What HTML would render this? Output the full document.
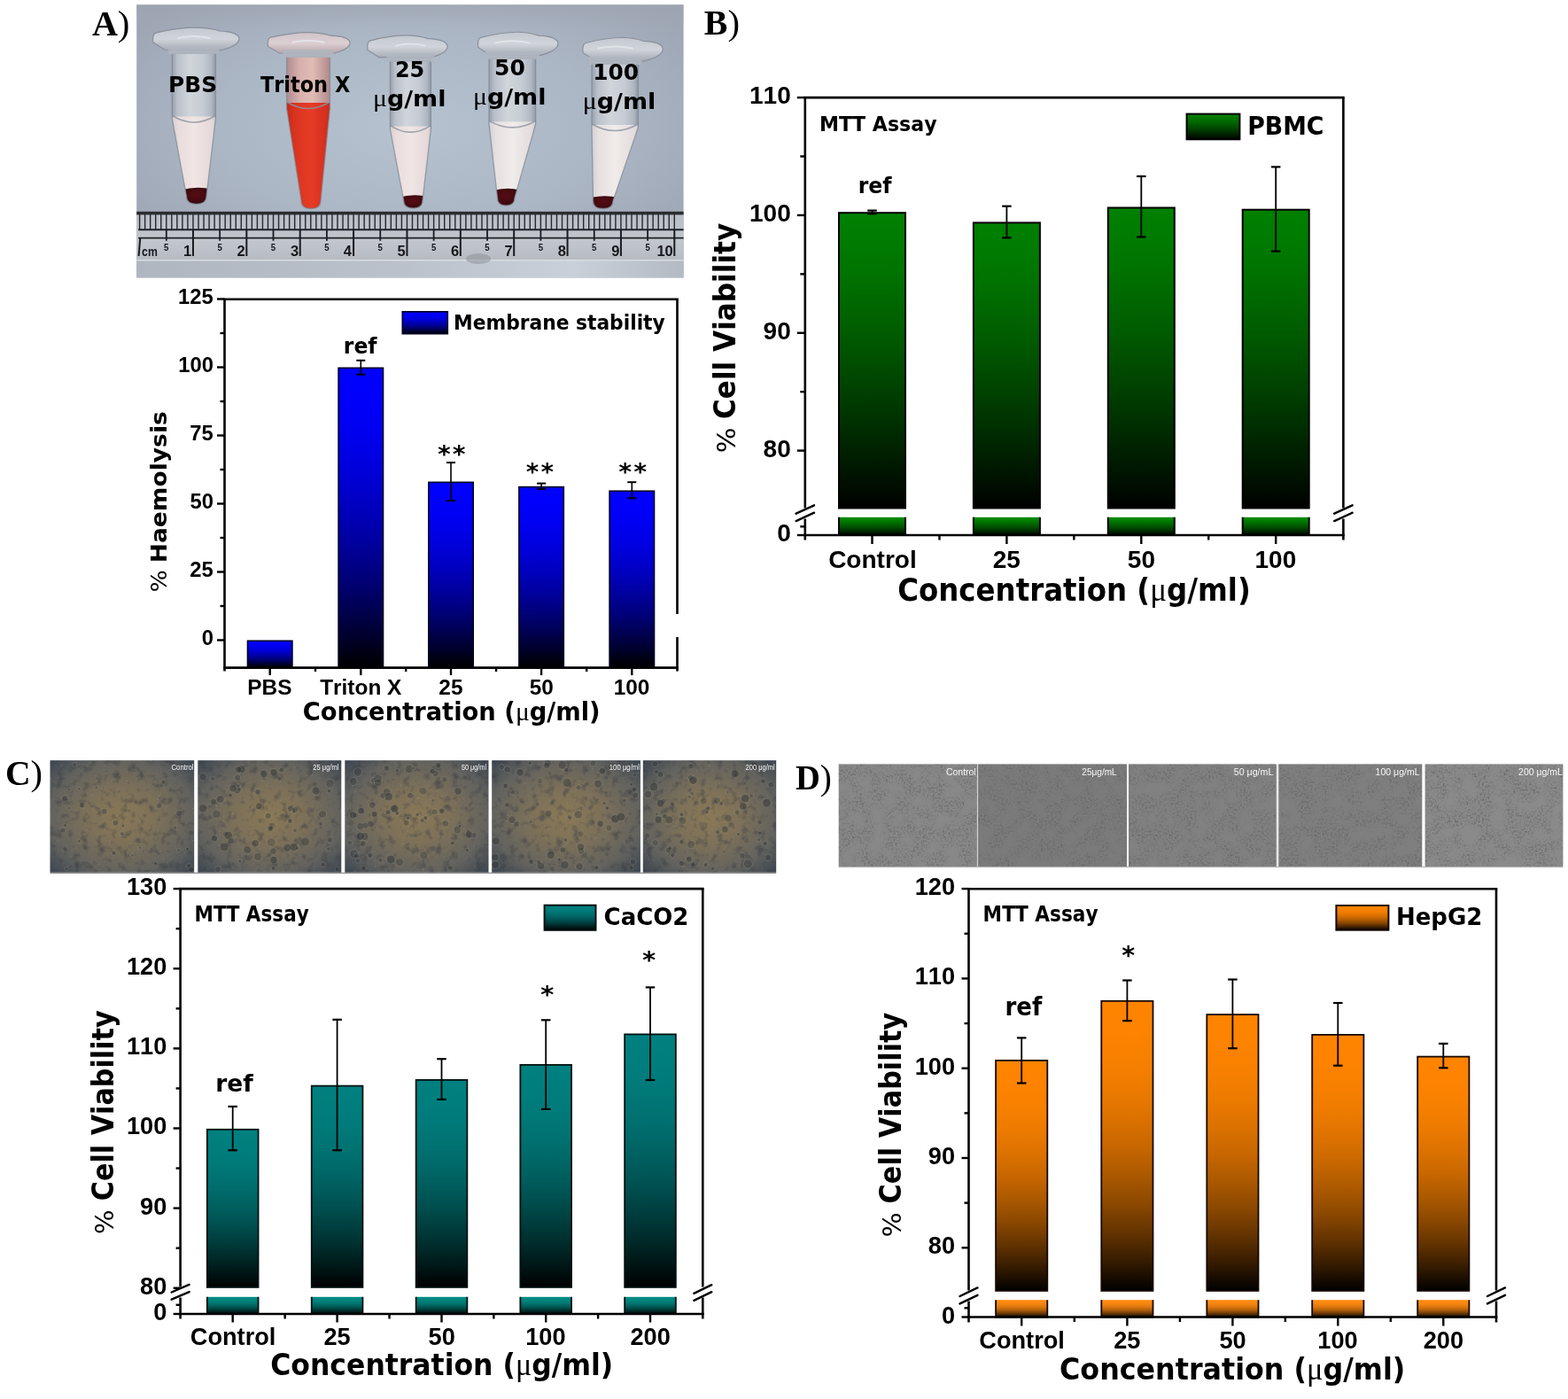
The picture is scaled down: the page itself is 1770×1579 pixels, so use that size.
<!DOCTYPE html>
<html><head><meta charset="utf-8"><title>Figure</title>
<style>html,body{margin:0;padding:0;background:#fff;overflow:hidden;width:1770px;height:1579px;} svg{display:block;} text{font-kerning:none;}</style>
</head><body>
<svg width="1770" height="1579" viewBox="0 0 1770 1579">
<defs><radialGradient id="phbg" cx="0.5" cy="0.45" r="0.62">
<stop offset="0" stop-color="#b6c2cf"/><stop offset="0.55" stop-color="#acb7c6"/><stop offset="1" stop-color="#9ea6b4"/></radialGradient><linearGradient id="phtop" x1="0" y1="0" x2="0" y2="1">
<stop offset="0" stop-color="#9ea4b0" stop-opacity="0.6"/><stop offset="1" stop-color="#9ea4b0" stop-opacity="0"/></linearGradient><linearGradient id="ruler" x1="0" y1="0" x2="0" y2="1">
<stop offset="0" stop-color="#b9bdc5"/><stop offset="0.6" stop-color="#c2c6cd"/><stop offset="1" stop-color="#b6bbc3"/></linearGradient><linearGradient id="rulerlow" x1="0" y1="0" x2="1" y2="0">
<stop offset="0" stop-color="#b0b6c0"/><stop offset="0.5" stop-color="#bcc2cc"/><stop offset="0.8" stop-color="#c8d0da"/><stop offset="1" stop-color="#b4bac4"/></linearGradient><linearGradient id="tcyl" x1="0" y1="0" x2="1" y2="0">
<stop offset="0" stop-color="#98a0ac"/><stop offset="0.12" stop-color="#bac0ca"/><stop offset="0.4" stop-color="#d0d5db"/><stop offset="0.7" stop-color="#c6ccd4"/><stop offset="0.9" stop-color="#b0b8c2"/><stop offset="1" stop-color="#929aa8"/></linearGradient><linearGradient id="tcap" x1="0" y1="0" x2="0" y2="1">
<stop offset="0" stop-color="#c4c8d0"/><stop offset="0.5" stop-color="#d0d4da"/><stop offset="1" stop-color="#a4aab4"/></linearGradient><linearGradient id="tcapR" x1="0" y1="0" x2="0" y2="1">
<stop offset="0" stop-color="#cfc4ca"/><stop offset="0.5" stop-color="#dccfd2"/><stop offset="1" stop-color="#b4a2a8"/></linearGradient><linearGradient id="liqW" x1="0" y1="0" x2="1" y2="0">
<stop offset="0" stop-color="#c8c6cc"/><stop offset="0.2" stop-color="#e6e0e0"/><stop offset="0.5" stop-color="#f0ecea"/><stop offset="0.85" stop-color="#e2dcdc"/><stop offset="1" stop-color="#b8bac2"/></linearGradient><linearGradient id="liqP" x1="0" y1="0" x2="1" y2="0">
<stop offset="0" stop-color="#c8c2c6"/><stop offset="0.2" stop-color="#e8dcdc"/><stop offset="0.5" stop-color="#f0e6e4"/><stop offset="0.85" stop-color="#e4d8d8"/><stop offset="1" stop-color="#bab8be"/></linearGradient><linearGradient id="liqR" x1="0" y1="0" x2="1" y2="0">
<stop offset="0" stop-color="#b02418"/><stop offset="0.22" stop-color="#d8321f"/><stop offset="0.55" stop-color="#e63c26"/><stop offset="0.85" stop-color="#d42e1e"/><stop offset="1" stop-color="#a82016"/></linearGradient><linearGradient id="tcylR" x1="0" y1="0" x2="1" y2="0">
<stop offset="0" stop-color="#b08c90"/><stop offset="0.3" stop-color="#d8b0ac"/><stop offset="0.6" stop-color="#e0bcb4"/><stop offset="1" stop-color="#b08a8c"/></linearGradient><radialGradient id="pel" cx="0.5" cy="0.4" r="0.6">
<stop offset="0" stop-color="#5a0c14"/><stop offset="1" stop-color="#2e080c"/></radialGradient><clipPath id="clippbs"><path d="M194.3,60.0 L243.4,60.0 L243.4,134.0 L233.0,221.3 Q233.0,230.3 221.8,230.3 Q210.5,230.3 210.5,221.3 L194.3,134.0 Z"/></clipPath><clipPath id="cliptrt"><path d="M323.6,64.0 L372.4,64.0 L372.4,122.0 L362.0,226.5 Q362.0,235.5 351.0,235.5 Q340.0,235.5 340.0,226.5 L323.6,122.0 Z"/></clipPath><clipPath id="clipt25"><path d="M440.4,68.7 L486.4,68.7 L486.4,146.0 L477.0,226.0 Q477.0,235.0 466.4,235.0 Q455.7,235.0 455.7,226.0 L440.4,146.0 Z"/></clipPath><clipPath id="clipt50"><path d="M552.0,66.0 L604.7,66.0 L604.7,140.0 L581.0,223.0 Q581.0,232.0 571.2,232.0 Q561.5,232.0 561.5,223.0 L552.0,140.0 Z"/></clipPath><clipPath id="clipt100"><path d="M668.0,72.0 L720.4,72.0 L720.4,144.0 L692.0,226.5 Q692.0,235.5 680.8,235.5 Q669.5,235.5 669.5,226.5 L668.0,144.0 Z"/></clipPath><linearGradient id="gA" x1="0" y1="0" x2="0" y2="1"><stop offset="0.00" stop-color="#0000ff"/><stop offset="0.10" stop-color="#0000fb"/><stop offset="0.20" stop-color="#0000f1"/><stop offset="0.30" stop-color="#0000e2"/><stop offset="0.40" stop-color="#0000ce"/><stop offset="0.50" stop-color="#0000b6"/><stop offset="0.60" stop-color="#000099"/><stop offset="0.70" stop-color="#000079"/><stop offset="0.80" stop-color="#000054"/><stop offset="0.90" stop-color="#00002c"/><stop offset="1.00" stop-color="#000000"/></linearGradient><linearGradient id="gB" x1="0" y1="0" x2="0" y2="1"><stop offset="0.00" stop-color="#008000"/><stop offset="0.10" stop-color="#007b00"/><stop offset="0.20" stop-color="#007300"/><stop offset="0.30" stop-color="#006800"/><stop offset="0.40" stop-color="#005d00"/><stop offset="0.50" stop-color="#004f00"/><stop offset="0.60" stop-color="#004100"/><stop offset="0.70" stop-color="#003200"/><stop offset="0.80" stop-color="#002200"/><stop offset="0.90" stop-color="#001200"/><stop offset="1.00" stop-color="#000000"/></linearGradient><linearGradient id="gBl" x1="0" y1="0" x2="0" y2="1"><stop offset="0.00" stop-color="#008a00"/><stop offset="0.10" stop-color="#008500"/><stop offset="0.20" stop-color="#007c00"/><stop offset="0.30" stop-color="#007000"/><stop offset="0.40" stop-color="#006400"/><stop offset="0.50" stop-color="#005600"/><stop offset="0.60" stop-color="#004700"/><stop offset="0.70" stop-color="#003600"/><stop offset="0.80" stop-color="#002500"/><stop offset="0.90" stop-color="#001300"/><stop offset="1.00" stop-color="#000000"/></linearGradient><linearGradient id="gC" x1="0" y1="0" x2="0" y2="1"><stop offset="0.00" stop-color="#008080"/><stop offset="0.10" stop-color="#007e7e"/><stop offset="0.20" stop-color="#007a7a"/><stop offset="0.30" stop-color="#007373"/><stop offset="0.40" stop-color="#006a6a"/><stop offset="0.50" stop-color="#005e5e"/><stop offset="0.60" stop-color="#005050"/><stop offset="0.70" stop-color="#003f3f"/><stop offset="0.80" stop-color="#002c2c"/><stop offset="0.90" stop-color="#001717"/><stop offset="1.00" stop-color="#000000"/></linearGradient><linearGradient id="gCl" x1="0" y1="0" x2="0" y2="1"><stop offset="0.00" stop-color="#008a84"/><stop offset="0.10" stop-color="#008882"/><stop offset="0.20" stop-color="#00847e"/><stop offset="0.30" stop-color="#007c77"/><stop offset="0.40" stop-color="#00726d"/><stop offset="0.50" stop-color="#006561"/><stop offset="0.60" stop-color="#005652"/><stop offset="0.70" stop-color="#004441"/><stop offset="0.80" stop-color="#00302e"/><stop offset="0.90" stop-color="#001918"/><stop offset="1.00" stop-color="#000000"/></linearGradient><linearGradient id="gD" x1="0" y1="0" x2="0" y2="1"><stop offset="0.00" stop-color="#ff8400"/><stop offset="0.10" stop-color="#fd8300"/><stop offset="0.20" stop-color="#f88000"/><stop offset="0.30" stop-color="#ed7b00"/><stop offset="0.40" stop-color="#dd7200"/><stop offset="0.50" stop-color="#c86700"/><stop offset="0.60" stop-color="#ac5900"/><stop offset="0.70" stop-color="#8b4800"/><stop offset="0.80" stop-color="#633300"/><stop offset="0.90" stop-color="#351b00"/><stop offset="1.00" stop-color="#000000"/></linearGradient><linearGradient id="gDl" x1="0" y1="0" x2="0" y2="1"><stop offset="0.00" stop-color="#ff8a10"/><stop offset="0.10" stop-color="#fd8910"/><stop offset="0.20" stop-color="#f88610"/><stop offset="0.30" stop-color="#ed800f"/><stop offset="0.40" stop-color="#dd780e"/><stop offset="0.50" stop-color="#c86c0d"/><stop offset="0.60" stop-color="#ac5d0b"/><stop offset="0.70" stop-color="#8b4b09"/><stop offset="0.80" stop-color="#633606"/><stop offset="0.90" stop-color="#351d03"/><stop offset="1.00" stop-color="#000000"/></linearGradient><radialGradient id="mC" cx="0.5" cy="0.5" r="0.72">
<stop offset="0" stop-color="#8a7956"/><stop offset="0.35" stop-color="#7c7059"/><stop offset="0.7" stop-color="#62625e"/><stop offset="1" stop-color="#38424f"/></radialGradient><filter id="fC" x="0" y="0" width="1" height="1" color-interpolation-filters="sRGB">
<feTurbulence type="fractalNoise" baseFrequency="0.11" numOctaves="3" seed="4" result="t"/>
<feColorMatrix in="t" type="matrix" values="0 0 0 0 0.22  0 0 0 0 0.23  0 0 0 0 0.26  0 0 0 -1.6 0.78" result="dk"/>
<feTurbulence type="fractalNoise" baseFrequency="0.35" numOctaves="2" seed="9" result="t2"/>
<feColorMatrix in="t2" type="matrix" values="0 0 0 0 0.8  0 0 0 0 0.78  0 0 0 0 0.7  0 0 0 1.0 -0.7" result="lt"/>
<feComposite in="dk" in2="SourceGraphic" operator="atop" result="a"/>
<feComposite in="lt" in2="a" operator="atop"/>
</filter><filter id="fD" x="0" y="0" width="1" height="1" color-interpolation-filters="sRGB">
<feTurbulence type="fractalNoise" baseFrequency="0.06" numOctaves="2" seed="7" result="low"/>
<feTurbulence type="fractalNoise" baseFrequency="0.45" numOctaves="2" seed="3" result="hi"/>
<feColorMatrix in="hi" type="matrix" values="0 0 0 0 0.4  0 0 0 0 0.4  0 0 0 0 0.4  0 0 0 -2.2 1.3" result="dk"/>
<feColorMatrix in="low" type="matrix" values="0 0 0 0 0  0 0 0 0 0  0 0 0 0 0  0 0 0 3.0 -0.9" result="mask"/>
<feComposite in="dk" in2="mask" operator="in" result="dk1"/>
<feGaussianBlur in="dk1" stdDeviation="0.45" result="dk2"/>
<feComposite in="dk2" in2="SourceGraphic" operator="atop"/>
</filter><clipPath id="cc0"><rect x="56.5" y="858.2" width="162.7" height="126.6"/></clipPath><clipPath id="cc1"><rect x="223.3" y="858.2" width="162.0" height="126.6"/></clipPath><clipPath id="cc2"><rect x="389.3" y="858.2" width="162.2" height="126.6"/></clipPath><clipPath id="cc3"><rect x="555.2" y="858.2" width="167.7" height="126.6"/></clipPath><clipPath id="cc4"><rect x="725.8" y="858.2" width="150.4" height="126.6"/></clipPath></defs>
<rect width="1770" height="1579" fill="#fff"/>
<g transform="translate(103.91,39.60) scale(1.0027,1)" fill="#000" ><text x="0.00" y="0" font-family='"Liberation Serif"' font-weight="bold" font-size="40.00" style="white-space:pre">A</text><text x="28.89" y="0" font-family='"Liberation Serif"' font-weight="normal" font-size="40.80" style="white-space:pre">)</text></g>
<g transform="translate(794.84,39.00) scale(0.9971,1)" fill="#000" ><text x="0.00" y="0" font-family='"Liberation Serif"' font-weight="bold" font-size="40.00" style="white-space:pre">B</text><text x="26.68" y="0" font-family='"Liberation Serif"' font-weight="normal" font-size="40.80" style="white-space:pre">)</text></g>
<g transform="translate(5.96,886.30) scale(0.9915,1)" fill="#000" ><text x="0.00" y="0" font-family='"Liberation Serif"' font-weight="bold" font-size="40.00" style="white-space:pre">C</text><text x="28.89" y="0" font-family='"Liberation Serif"' font-weight="normal" font-size="40.80" style="white-space:pre">)</text></g>
<g transform="translate(898.02,891.40) scale(0.9630,1)" fill="#000" ><text x="0.00" y="0" font-family='"Liberation Serif"' font-weight="bold" font-size="40.00" style="white-space:pre">D</text><text x="28.89" y="0" font-family='"Liberation Serif"' font-weight="normal" font-size="40.80" style="white-space:pre">)</text></g>
<g id="photo">
<rect x="154.20" y="5.30" width="617.40" height="308.10" fill="url(#phbg)" stroke="none" stroke-width="0" />
<rect x="154.20" y="5.30" width="617.40" height="26.00" fill="url(#phtop)" stroke="none" stroke-width="0" />
<path d="M194.3,60.0 L243.4,60.0 L243.4,134.0 L233.0,221.3 Q233.0,230.3 221.8,230.3 Q210.5,230.3 210.5,221.3 L194.3,134.0 Z" fill="url(#tcyl)"/>
<g clip-path="url(#clippbs)">
<rect x="189.3" y="131.5" width="59.1" height="100.8" fill="url(#liqP)"/>
<path d="M194.3,130.5 Q218.9,145.5 243.4,130.5" fill="none" stroke="#8c94a0" stroke-width="1.6" opacity="0.8"/>
<path d="M204.5,214.5 Q221.8,209.5 239.0,213.5 L239.0,232.3 L204.5,232.3 Z" fill="url(#pel)"/>
</g>
<path d="M194.3,60.0 L243.4,60.0 L243.4,134.0 L233.0,221.3 Q233.0,230.3 221.8,230.3 Q210.5,230.3 210.5,221.3 L194.3,134.0 Z" fill="none" stroke="#7c8490" stroke-width="1.3" opacity="0.7"/>
<path d="M175.8,37.1 Q171.8,38.6 172.8,47.8 L185.8,56.0 L248.0,57.0 Q270.0,52.0 270.0,43.2 Q268.0,35.6 248.0,35.0 Q220.9,26.5 175.8,37.1 Z" fill="url(#tcap)" stroke="#8a909a" stroke-width="1.2"/>
<rect x="190.3" y="52.0" width="57.1" height="9" fill="#b0b6c0" opacity="0.85"/>
<path d="M200.3,43.2 Q218.9,38.6 237.4,43.2" fill="none" stroke="#e4e8ec" stroke-width="2" opacity="0.8"/>
<path d="M323.6,64.0 L372.4,64.0 L372.4,122.0 L362.0,226.5 Q362.0,235.5 351.0,235.5 Q340.0,235.5 340.0,226.5 L323.6,122.0 Z" fill="url(#tcylR)"/>
<g clip-path="url(#cliptrt)">
<rect x="318.6" y="116.0" width="58.8" height="121.5" fill="url(#liqR)"/>
<path d="M323.6,115.0 Q348.0,130.0 372.4,115.0" fill="none" stroke="#8c94a0" stroke-width="1.6" opacity="0.8"/>
</g>
<path d="M323.6,64.0 L372.4,64.0 L372.4,122.0 L362.0,226.5 Q362.0,235.5 351.0,235.5 Q340.0,235.5 340.0,226.5 L323.6,122.0 Z" fill="none" stroke="#7c8490" stroke-width="1.3" opacity="0.7"/>
<path d="M305.5,42.2 Q301.5,43.7 302.5,52.4 L315.5,60.0 L373.2,61.0 Q395.2,56.0 395.2,48.0 Q393.2,40.8 373.2,40.2 Q348.4,32.0 305.5,42.2 Z" fill="url(#tcapR)" stroke="#8a909a" stroke-width="1.2"/>
<rect x="319.6" y="56.0" width="56.8" height="9" fill="#b0b6c0" opacity="0.85"/>
<path d="M329.6,48.0 Q348.0,43.7 366.4,48.0" fill="none" stroke="#e4e8ec" stroke-width="2" opacity="0.8"/>
<path d="M440.4,68.7 L486.4,68.7 L486.4,146.0 L477.0,226.0 Q477.0,235.0 466.4,235.0 Q455.7,235.0 455.7,226.0 L440.4,146.0 Z" fill="url(#tcyl)"/>
<g clip-path="url(#clipt25)">
<rect x="435.4" y="142.6" width="56.0" height="94.4" fill="url(#liqP)"/>
<path d="M440.4,141.6 Q463.4,156.6 486.4,141.6" fill="none" stroke="#8c94a0" stroke-width="1.6" opacity="0.8"/>
<path d="M449.7,223.0 Q466.4,218.0 483.0,222.0 L483.0,237.0 L449.7,237.0 Z" fill="url(#pel)"/>
</g>
<path d="M440.4,68.7 L486.4,68.7 L486.4,146.0 L477.0,226.0 Q477.0,235.0 466.4,235.0 Q455.7,235.0 455.7,226.0 L440.4,146.0 Z" fill="none" stroke="#7c8490" stroke-width="1.3" opacity="0.7"/>
<path d="M417.9,45.8 Q413.9,47.3 414.9,56.5 L427.9,64.7 L483.2,65.7 Q505.2,60.7 505.2,51.9 Q503.2,44.2 483.2,43.6 Q459.5,35.1 417.9,45.8 Z" fill="url(#tcap)" stroke="#8a909a" stroke-width="1.2"/>
<rect x="436.4" y="60.7" width="54.0" height="9" fill="#b0b6c0" opacity="0.85"/>
<path d="M446.4,51.9 Q463.4,47.3 480.4,51.9" fill="none" stroke="#e4e8ec" stroke-width="2" opacity="0.8"/>
<path d="M552.0,66.0 L604.7,66.0 L604.7,140.0 L581.0,223.0 Q581.0,232.0 571.2,232.0 Q561.5,232.0 561.5,223.0 L552.0,140.0 Z" fill="url(#tcyl)"/>
<g clip-path="url(#clipt50)">
<rect x="547.0" y="137.4" width="62.7" height="96.6" fill="url(#liqW)"/>
<path d="M552.0,136.4 Q578.4,151.4 604.7,136.4" fill="none" stroke="#8c94a0" stroke-width="1.6" opacity="0.8"/>
<path d="M555.5,215.5 Q571.2,210.5 587.0,214.5 L587.0,234.0 L555.5,234.0 Z" fill="url(#pel)"/>
</g>
<path d="M552.0,66.0 L604.7,66.0 L604.7,140.0 L581.0,223.0 Q581.0,232.0 571.2,232.0 Q561.5,232.0 561.5,223.0 L552.0,140.0 Z" fill="none" stroke="#7c8490" stroke-width="1.3" opacity="0.7"/>
<path d="M542.7,42.3 Q538.7,43.9 539.7,53.4 L552.7,62.0 L608.0,63.0 Q630.0,58.0 630.0,48.6 Q628.0,40.7 608.0,40.1 Q584.4,31.4 542.7,42.3 Z" fill="url(#tcap)" stroke="#8a909a" stroke-width="1.2"/>
<rect x="548.0" y="58.0" width="60.7" height="9" fill="#b0b6c0" opacity="0.85"/>
<path d="M558.0,48.6 Q578.4,43.9 598.7,48.6" fill="none" stroke="#e4e8ec" stroke-width="2" opacity="0.8"/>
<path d="M668.0,72.0 L720.4,72.0 L720.4,144.0 L692.0,226.5 Q692.0,235.5 680.8,235.5 Q669.5,235.5 669.5,226.5 L668.0,144.0 Z" fill="url(#tcyl)"/>
<g clip-path="url(#clipt100)">
<rect x="663.0" y="141.0" width="62.4" height="96.5" fill="url(#liqW)"/>
<path d="M668.0,140.0 Q694.2,155.0 720.4,140.0" fill="none" stroke="#8c94a0" stroke-width="1.6" opacity="0.8"/>
<path d="M663.5,224.0 Q680.8,219.0 698.0,223.0 L698.0,237.5 L663.5,237.5 Z" fill="url(#pel)"/>
</g>
<path d="M668.0,72.0 L720.4,72.0 L720.4,144.0 L692.0,226.5 Q692.0,235.5 680.8,235.5 Q669.5,235.5 669.5,226.5 L668.0,144.0 Z" fill="none" stroke="#7c8490" stroke-width="1.3" opacity="0.7"/>
<path d="M661.0,48.5 Q657.0,50.1 658.0,59.5 L671.0,68.0 L726.4,69.0 Q748.4,64.0 748.4,54.8 Q746.4,47.0 726.4,46.3 Q702.7,37.7 661.0,48.5 Z" fill="url(#tcap)" stroke="#8a909a" stroke-width="1.2"/>
<rect x="664.0" y="64.0" width="60.4" height="9" fill="#b0b6c0" opacity="0.85"/>
<path d="M674.0,54.8 Q694.2,50.1 714.4,54.8" fill="none" stroke="#e4e8ec" stroke-width="2" opacity="0.8"/>
<rect x="154.20" y="239.00" width="617.40" height="55.00" fill="url(#ruler)" stroke="none" stroke-width="0" />
<rect x="154.20" y="294.00" width="617.40" height="19.40" fill="url(#rulerlow)" stroke="none" stroke-width="0" />
<line x1="154.20" y1="293.80" x2="771.60" y2="293.80" stroke="#d8dce2" stroke-width="1.4" stroke-linecap="butt"/>
<rect x="154.20" y="238.80" width="617.40" height="3.60" fill="#2a2c30" stroke="none" stroke-width="0" />
<path d="M157.60,241 V259.5 M163.64,241 V259.5 M169.67,241 V259.5 M175.71,241 V259.5 M181.75,241 V259.5 M187.78,241 V259.5 M193.82,241 V259.5 M199.86,241 V259.5 M205.90,241 V259.5 M211.93,241 V259.5 M217.97,241 V259.5 M224.01,241 V259.5 M230.04,241 V259.5 M236.08,241 V259.5 M242.12,241 V259.5 M248.15,241 V259.5 M254.19,241 V259.5 M260.23,241 V259.5 M266.27,241 V259.5 M272.30,241 V259.5 M278.34,241 V259.5 M284.38,241 V259.5 M290.41,241 V259.5 M296.45,241 V259.5 M302.49,241 V259.5 M308.52,241 V259.5 M314.56,241 V259.5 M320.60,241 V259.5 M326.64,241 V259.5 M332.67,241 V259.5 M338.71,241 V259.5 M344.75,241 V259.5 M350.78,241 V259.5 M356.82,241 V259.5 M362.86,241 V259.5 M368.89,241 V259.5 M374.93,241 V259.5 M380.97,241 V259.5 M387.01,241 V259.5 M393.04,241 V259.5 M399.08,241 V259.5 M405.12,241 V259.5 M411.15,241 V259.5 M417.19,241 V259.5 M423.23,241 V259.5 M429.26,241 V259.5 M435.30,241 V259.5 M441.34,241 V259.5 M447.38,241 V259.5 M453.41,241 V259.5 M459.45,241 V259.5 M465.49,241 V259.5 M471.52,241 V259.5 M477.56,241 V259.5 M483.60,241 V259.5 M489.63,241 V259.5 M495.67,241 V259.5 M501.71,241 V259.5 M507.75,241 V259.5 M513.78,241 V259.5 M519.82,241 V259.5 M525.86,241 V259.5 M531.89,241 V259.5 M537.93,241 V259.5 M543.97,241 V259.5 M550.00,241 V259.5 M556.04,241 V259.5 M562.08,241 V259.5 M568.12,241 V259.5 M574.15,241 V259.5 M580.19,241 V259.5 M586.23,241 V259.5 M592.26,241 V259.5 M598.30,241 V259.5 M604.34,241 V259.5 M610.38,241 V259.5 M616.41,241 V259.5 M622.45,241 V259.5 M628.49,241 V259.5 M634.52,241 V259.5 M640.56,241 V259.5 M646.60,241 V259.5 M652.63,241 V259.5 M658.67,241 V259.5 M664.71,241 V259.5 M670.75,241 V259.5 M676.78,241 V259.5 M682.82,241 V259.5 M688.86,241 V259.5 M694.89,241 V259.5 M700.93,241 V259.5 M706.97,241 V259.5 M713.00,241 V259.5 M719.04,241 V259.5 M725.08,241 V259.5 M731.12,241 V259.5 M737.15,241 V259.5 M743.19,241 V259.5 M749.23,241 V259.5 M755.26,241 V259.5 M761.30,241 V259.5" stroke="#26282c" stroke-width="1.4" fill="none"/>
<line x1="156.20" y1="259.30" x2="771.60" y2="259.30" stroke="#1e2024" stroke-width="2.0" stroke-linecap="butt"/>
<line x1="156.20" y1="268.60" x2="771.60" y2="268.60" stroke="#1e2024" stroke-width="1.8" stroke-linecap="butt"/>
<path d="M217.97,259 V289 M278.34,259 V289 M338.71,259 V289 M399.08,259 V289 M459.45,259 V289 M519.82,259 V289 M580.19,259 V289 M640.56,259 V289 M700.93,259 V289 M761.30,259 V289" stroke="#1a1c20" stroke-width="2.0" fill="none"/>
<path d="M187.78,259 V271.8 M248.15,259 V271.8 M308.52,259 V271.8 M368.89,259 V271.8 M429.26,259 V271.8 M489.63,259 V271.8 M550.00,259 V271.8 M610.38,259 V271.8 M670.75,259 V271.8 M731.12,259 V271.8" stroke="#1a1c20" stroke-width="1.8" fill="none"/>
<line x1="158.20" y1="269.00" x2="156.60" y2="289.00" stroke="#1a1c20" stroke-width="2.0" stroke-linecap="butt"/>
<g transform="translate(207.05,288.80) scale(1.0000,1)" fill="#16181c" ><text x="0.00" y="0" font-family='"Liberation Sans"' font-weight="bold" font-size="16.50" style="white-space:pre">1</text></g>
<g transform="translate(267.62,288.80) scale(1.0000,1)" fill="#16181c" ><text x="0.00" y="0" font-family='"Liberation Sans"' font-weight="bold" font-size="16.50" style="white-space:pre">2</text></g>
<g transform="translate(327.93,288.80) scale(1.0000,1)" fill="#16181c" ><text x="0.00" y="0" font-family='"Liberation Sans"' font-weight="bold" font-size="16.50" style="white-space:pre">3</text></g>
<g transform="translate(387.79,288.80) scale(1.0000,1)" fill="#16181c" ><text x="0.00" y="0" font-family='"Liberation Sans"' font-weight="bold" font-size="16.50" style="white-space:pre">4</text></g>
<g transform="translate(448.53,288.80) scale(1.0000,1)" fill="#16181c" ><text x="0.00" y="0" font-family='"Liberation Sans"' font-weight="bold" font-size="16.50" style="white-space:pre">5</text></g>
<g transform="translate(509.04,288.80) scale(1.0000,1)" fill="#16181c" ><text x="0.00" y="0" font-family='"Liberation Sans"' font-weight="bold" font-size="16.50" style="white-space:pre">6</text></g>
<g transform="translate(569.54,288.80) scale(1.0000,1)" fill="#16181c" ><text x="0.00" y="0" font-family='"Liberation Sans"' font-weight="bold" font-size="16.50" style="white-space:pre">7</text></g>
<g transform="translate(629.69,288.80) scale(1.0000,1)" fill="#16181c" ><text x="0.00" y="0" font-family='"Liberation Sans"' font-weight="bold" font-size="16.50" style="white-space:pre">8</text></g>
<g transform="translate(690.17,288.80) scale(1.0000,1)" fill="#16181c" ><text x="0.00" y="0" font-family='"Liberation Sans"' font-weight="bold" font-size="16.50" style="white-space:pre">9</text></g>
<g transform="translate(741.42,288.80) scale(1.0000,1)" fill="#16181c" ><text x="0.00" y="0" font-family='"Liberation Sans"' font-weight="bold" font-size="16.50" style="white-space:pre">10</text></g>
<g transform="translate(185.09,282.80) scale(0.9366,1)" fill="#16181c" ><text x="0.00" y="0" font-family='"Liberation Sans"' font-weight="bold" font-size="10.30" style="white-space:pre">5</text></g>
<g transform="translate(245.46,282.80) scale(0.9366,1)" fill="#16181c" ><text x="0.00" y="0" font-family='"Liberation Sans"' font-weight="bold" font-size="10.30" style="white-space:pre">5</text></g>
<g transform="translate(305.83,282.80) scale(0.9366,1)" fill="#16181c" ><text x="0.00" y="0" font-family='"Liberation Sans"' font-weight="bold" font-size="10.30" style="white-space:pre">5</text></g>
<g transform="translate(366.20,282.80) scale(0.9366,1)" fill="#16181c" ><text x="0.00" y="0" font-family='"Liberation Sans"' font-weight="bold" font-size="10.30" style="white-space:pre">5</text></g>
<g transform="translate(426.57,282.80) scale(0.9366,1)" fill="#16181c" ><text x="0.00" y="0" font-family='"Liberation Sans"' font-weight="bold" font-size="10.30" style="white-space:pre">5</text></g>
<g transform="translate(486.94,282.80) scale(0.9366,1)" fill="#16181c" ><text x="0.00" y="0" font-family='"Liberation Sans"' font-weight="bold" font-size="10.30" style="white-space:pre">5</text></g>
<g transform="translate(547.31,282.80) scale(0.9366,1)" fill="#16181c" ><text x="0.00" y="0" font-family='"Liberation Sans"' font-weight="bold" font-size="10.30" style="white-space:pre">5</text></g>
<g transform="translate(607.68,282.80) scale(0.9366,1)" fill="#16181c" ><text x="0.00" y="0" font-family='"Liberation Sans"' font-weight="bold" font-size="10.30" style="white-space:pre">5</text></g>
<g transform="translate(668.05,282.80) scale(0.9366,1)" fill="#16181c" ><text x="0.00" y="0" font-family='"Liberation Sans"' font-weight="bold" font-size="10.30" style="white-space:pre">5</text></g>
<g transform="translate(728.42,282.80) scale(0.9366,1)" fill="#16181c" ><text x="0.00" y="0" font-family='"Liberation Sans"' font-weight="bold" font-size="10.30" style="white-space:pre">5</text></g>
<g transform="translate(160.12,288.80) scale(0.7919,1)" fill="#16181c" ><text x="0.00" y="0" font-family='"Liberation Sans"' font-weight="bold" font-size="15.50" style="white-space:pre">cm</text></g>
<ellipse cx="540" cy="292" rx="14" ry="6" fill="#8a8e94" opacity="0.5"/>
<g transform="translate(190.12,104.00) scale(0.9851,1)" fill="#000" ><text x="0.00" y="0" font-family='"DejaVu Sans"' font-weight="bold" font-size="25.20" style="white-space:pre">PBS</text></g>
<g transform="translate(293.89,104.00) scale(0.8910,1)" fill="#000" ><text x="0.00" y="0" font-family='"DejaVu Sans"' font-weight="bold" font-size="25.20" style="white-space:pre">Triton X</text></g>
<g transform="translate(445.90,87.20) scale(0.9516,1)" fill="#000" ><text x="0.00" y="0" font-family='"DejaVu Sans"' font-weight="bold" font-size="25.20" style="white-space:pre">25</text></g>
<g transform="translate(420.99,119.90) scale(1.0725,1)" fill="#000" ><text x="0.00" y="0" font-family='"Liberation Serif"' font-weight="normal" font-size="27.72" style="white-space:pre">μ</text><text x="14.86" y="0" font-family='"DejaVu Sans"' font-weight="bold" font-size="25.20" style="white-space:pre">g/ml</text></g>
<g transform="translate(557.97,84.70) scale(0.9932,1)" fill="#000" ><text x="0.00" y="0" font-family='"DejaVu Sans"' font-weight="bold" font-size="25.20" style="white-space:pre">50</text></g>
<g transform="translate(533.99,118.00) scale(1.0711,1)" fill="#000" ><text x="0.00" y="0" font-family='"Liberation Serif"' font-weight="normal" font-size="27.72" style="white-space:pre">μ</text><text x="14.86" y="0" font-family='"DejaVu Sans"' font-weight="bold" font-size="25.20" style="white-space:pre">g/ml</text></g>
<g transform="translate(669.19,90.00) scale(0.9886,1)" fill="#000" ><text x="0.00" y="0" font-family='"DejaVu Sans"' font-weight="bold" font-size="25.20" style="white-space:pre">100</text></g>
<g transform="translate(657.79,122.60) scale(1.0725,1)" fill="#000" ><text x="0.00" y="0" font-family='"Liberation Serif"' font-weight="normal" font-size="27.72" style="white-space:pre">μ</text><text x="14.86" y="0" font-family='"DejaVu Sans"' font-weight="bold" font-size="25.20" style="white-space:pre">g/ml</text></g>
</g>
<rect x="279.50" y="723.30" width="50.40" height="29.50" fill="url(#gA)" stroke="#000022" stroke-width="1.6" />
<rect x="382.10" y="415.30" width="50.40" height="337.50" fill="url(#gA)" stroke="#000022" stroke-width="1.6" />
<rect x="483.80" y="544.35" width="50.40" height="208.45" fill="url(#gA)" stroke="#000022" stroke-width="1.6" />
<rect x="585.90" y="549.59" width="50.40" height="203.21" fill="url(#gA)" stroke="#000022" stroke-width="1.6" />
<rect x="688.10" y="554.21" width="50.40" height="198.59" fill="url(#gA)" stroke="#000022" stroke-width="1.6" />
<line x1="407.30" y1="406.80" x2="407.30" y2="422.70" stroke="#000" stroke-width="1.6" stroke-linecap="butt"/>
<line x1="402.30" y1="406.80" x2="412.30" y2="406.80" stroke="#000" stroke-width="2.0" stroke-linecap="butt"/>
<line x1="402.30" y1="422.70" x2="412.30" y2="422.70" stroke="#000" stroke-width="2.0" stroke-linecap="butt"/>
<line x1="509.00" y1="522.10" x2="509.00" y2="565.20" stroke="#000" stroke-width="1.6" stroke-linecap="butt"/>
<line x1="504.00" y1="522.10" x2="514.00" y2="522.10" stroke="#000" stroke-width="2.0" stroke-linecap="butt"/>
<line x1="504.00" y1="565.20" x2="514.00" y2="565.20" stroke="#000" stroke-width="2.0" stroke-linecap="butt"/>
<line x1="611.10" y1="545.60" x2="611.10" y2="551.90" stroke="#000" stroke-width="1.6" stroke-linecap="butt"/>
<line x1="606.10" y1="545.60" x2="616.10" y2="545.60" stroke="#000" stroke-width="2.0" stroke-linecap="butt"/>
<line x1="606.10" y1="551.90" x2="616.10" y2="551.90" stroke="#000" stroke-width="2.0" stroke-linecap="butt"/>
<line x1="713.30" y1="544.20" x2="713.30" y2="562.30" stroke="#000" stroke-width="1.6" stroke-linecap="butt"/>
<line x1="708.30" y1="544.20" x2="718.30" y2="544.20" stroke="#000" stroke-width="2.0" stroke-linecap="butt"/>
<line x1="708.30" y1="562.30" x2="718.30" y2="562.30" stroke="#000" stroke-width="2.0" stroke-linecap="butt"/>
<line x1="253.50" y1="337.70" x2="764.50" y2="337.70" stroke="#000" stroke-width="2.6" stroke-linecap="square"/>
<line x1="253.50" y1="337.70" x2="253.50" y2="757.60" stroke="#000" stroke-width="2.6" stroke-linecap="butt"/>
<line x1="252.20" y1="753.60" x2="765.80" y2="753.60" stroke="#000" stroke-width="2.6" stroke-linecap="butt"/>
<line x1="764.50" y1="337.70" x2="764.50" y2="693.00" stroke="#000" stroke-width="2.6" stroke-linecap="butt"/>
<line x1="764.50" y1="719.00" x2="764.50" y2="757.60" stroke="#000" stroke-width="2.6" stroke-linecap="butt"/>
<line x1="245.00" y1="337.50" x2="253.50" y2="337.50" stroke="#000" stroke-width="2.4" stroke-linecap="butt"/>
<line x1="245.00" y1="414.50" x2="253.50" y2="414.50" stroke="#000" stroke-width="2.4" stroke-linecap="butt"/>
<line x1="245.00" y1="491.50" x2="253.50" y2="491.50" stroke="#000" stroke-width="2.4" stroke-linecap="butt"/>
<line x1="245.00" y1="568.50" x2="253.50" y2="568.50" stroke="#000" stroke-width="2.4" stroke-linecap="butt"/>
<line x1="245.00" y1="645.50" x2="253.50" y2="645.50" stroke="#000" stroke-width="2.4" stroke-linecap="butt"/>
<line x1="245.00" y1="722.50" x2="253.50" y2="722.50" stroke="#000" stroke-width="2.4" stroke-linecap="butt"/>
<line x1="248.50" y1="376.00" x2="253.50" y2="376.00" stroke="#000" stroke-width="2.4" stroke-linecap="butt"/>
<line x1="248.50" y1="453.00" x2="253.50" y2="453.00" stroke="#000" stroke-width="2.4" stroke-linecap="butt"/>
<line x1="248.50" y1="530.00" x2="253.50" y2="530.00" stroke="#000" stroke-width="2.4" stroke-linecap="butt"/>
<line x1="248.50" y1="607.00" x2="253.50" y2="607.00" stroke="#000" stroke-width="2.4" stroke-linecap="butt"/>
<line x1="248.50" y1="684.00" x2="253.50" y2="684.00" stroke="#000" stroke-width="2.4" stroke-linecap="butt"/>
<line x1="304.70" y1="753.60" x2="304.70" y2="762.10" stroke="#000" stroke-width="2.4" stroke-linecap="butt"/>
<line x1="407.30" y1="753.60" x2="407.30" y2="762.10" stroke="#000" stroke-width="2.4" stroke-linecap="butt"/>
<line x1="509.00" y1="753.60" x2="509.00" y2="762.10" stroke="#000" stroke-width="2.4" stroke-linecap="butt"/>
<line x1="611.10" y1="753.60" x2="611.10" y2="762.10" stroke="#000" stroke-width="2.4" stroke-linecap="butt"/>
<line x1="713.30" y1="753.60" x2="713.30" y2="762.10" stroke="#000" stroke-width="2.4" stroke-linecap="butt"/>
<line x1="356.00" y1="753.60" x2="356.00" y2="758.10" stroke="#000" stroke-width="2.4" stroke-linecap="butt"/>
<line x1="458.15" y1="753.60" x2="458.15" y2="758.10" stroke="#000" stroke-width="2.4" stroke-linecap="butt"/>
<line x1="560.05" y1="753.60" x2="560.05" y2="758.10" stroke="#000" stroke-width="2.4" stroke-linecap="butt"/>
<line x1="662.20" y1="753.60" x2="662.20" y2="758.10" stroke="#000" stroke-width="2.4" stroke-linecap="butt"/>
<g transform="translate(201.05,343.20) scale(1.0000,1)" fill="#000" ><text x="0.00" y="0" font-family='"Liberation Sans"' font-weight="bold" font-size="23.80" style="white-space:pre">125</text></g>
<g transform="translate(201.37,420.20) scale(1.0000,1)" fill="#000" ><text x="0.00" y="0" font-family='"Liberation Sans"' font-weight="bold" font-size="23.80" style="white-space:pre">100</text></g>
<g transform="translate(214.29,497.20) scale(1.0000,1)" fill="#000" ><text x="0.00" y="0" font-family='"Liberation Sans"' font-weight="bold" font-size="23.80" style="white-space:pre">75</text></g>
<g transform="translate(214.60,574.20) scale(1.0000,1)" fill="#000" ><text x="0.00" y="0" font-family='"Liberation Sans"' font-weight="bold" font-size="23.80" style="white-space:pre">50</text></g>
<g transform="translate(214.29,651.20) scale(1.0000,1)" fill="#000" ><text x="0.00" y="0" font-family='"Liberation Sans"' font-weight="bold" font-size="23.80" style="white-space:pre">25</text></g>
<g transform="translate(227.84,728.20) scale(1.0000,1)" fill="#000" ><text x="0.00" y="0" font-family='"Liberation Sans"' font-weight="bold" font-size="23.80" style="white-space:pre">0</text></g>
<g transform="translate(279.28,784.30) scale(1.0000,1)" fill="#000" ><text x="0.00" y="0" font-family='"Liberation Sans"' font-weight="bold" font-size="24.40" style="white-space:pre">PBS</text></g>
<g transform="translate(361.19,784.30) scale(1.0000,1)" fill="#000" ><text x="0.00" y="0" font-family='"Liberation Sans"' font-weight="bold" font-size="24.40" style="white-space:pre">Triton X</text></g>
<g transform="translate(495.35,784.30) scale(1.0000,1)" fill="#000" ><text x="0.00" y="0" font-family='"Liberation Sans"' font-weight="bold" font-size="24.40" style="white-space:pre">25</text></g>
<g transform="translate(597.65,784.30) scale(1.0000,1)" fill="#000" ><text x="0.00" y="0" font-family='"Liberation Sans"' font-weight="bold" font-size="24.40" style="white-space:pre">50</text></g>
<g transform="translate(692.68,784.30) scale(1.0000,1)" fill="#000" ><text x="0.00" y="0" font-family='"Liberation Sans"' font-weight="bold" font-size="24.40" style="white-space:pre">100</text></g>
<g transform="translate(341.64,812.50) scale(0.9766,1)" fill="#000" ><text x="0.00" y="0" font-family='"DejaVu Sans"' font-weight="bold" font-size="28.00" style="white-space:pre">Concentration (</text><text x="246.03" y="0" font-family='"Liberation Serif"' font-weight="normal" font-size="30.24" style="white-space:pre">μ</text><text x="262.24" y="0" font-family='"DejaVu Sans"' font-weight="bold" font-size="28.00" style="white-space:pre">g/ml)</text></g>
<g transform="translate(187.86,668.25) rotate(-90) scale(1.0763,1)" fill="#000"><text x="0.00" y="0" font-family='"DejaVu Sans"' font-weight="normal" font-size="24.34" style="white-space:pre">%</text></g>
<g transform="translate(188.00,635.34) rotate(-90) scale(1.0373,1)" fill="#000"><text x="0.00" y="0" font-family='"DejaVu Sans"' font-weight="bold" font-size="25.60" style="white-space:pre">Haemolysis</text></g>
<rect x="454.30" y="351.80" width="51.00" height="24.90" fill="url(#gA)" stroke="#000022" stroke-width="1.6" />
<g transform="translate(512.00,371.70) scale(0.9233,1)" fill="#000" ><text x="0.00" y="0" font-family='"DejaVu Sans"' font-weight="bold" font-size="23.60" style="white-space:pre">Membrane stability</text></g>
<g transform="translate(387.83,398.60) scale(0.9715,1)" fill="#000" ><text x="0.00" y="0" font-family='"DejaVu Sans"' font-weight="bold" font-size="24.20" style="white-space:pre">ref</text></g>
<g transform="translate(492.94,522.10) scale(1.0254,1)" fill="#000" ><text x="0.00" y="0" font-family='"DejaVu Sans Mono"' font-weight="bold" font-size="27.35" style="white-space:pre">**</text></g>
<g transform="translate(592.87,541.58) scale(1.0247,1)" fill="#000" ><text x="0.00" y="0" font-family='"DejaVu Sans Mono"' font-weight="bold" font-size="26.92" style="white-space:pre">**</text></g>
<g transform="translate(697.34,541.58) scale(1.0452,1)" fill="#000" ><text x="0.00" y="0" font-family='"DejaVu Sans Mono"' font-weight="bold" font-size="26.92" style="white-space:pre">**</text></g>
<rect x="947.00" y="240.20" width="75.00" height="333.30" fill="url(#gB)" stroke="#000" stroke-width="2.0" />
<rect x="947.00" y="583.80" width="75.00" height="20.20" fill="url(#gBl)" stroke="none" stroke-width="0" />
<path d="M947.00,583.80 V604.00 H1022.00 V583.80" fill="none" stroke="#000" stroke-width="2.0"/>
<rect x="1098.90" y="251.40" width="75.00" height="322.10" fill="url(#gB)" stroke="#000" stroke-width="2.0" />
<rect x="1098.90" y="583.80" width="75.00" height="20.20" fill="url(#gBl)" stroke="none" stroke-width="0" />
<path d="M1098.90,583.80 V604.00 H1173.90 V583.80" fill="none" stroke="#000" stroke-width="2.0"/>
<rect x="1250.80" y="234.50" width="75.00" height="339.00" fill="url(#gB)" stroke="#000" stroke-width="2.0" />
<rect x="1250.80" y="583.80" width="75.00" height="20.20" fill="url(#gBl)" stroke="none" stroke-width="0" />
<path d="M1250.80,583.80 V604.00 H1325.80 V583.80" fill="none" stroke="#000" stroke-width="2.0"/>
<rect x="1402.70" y="236.70" width="75.00" height="336.80" fill="url(#gB)" stroke="#000" stroke-width="2.0" />
<rect x="1402.70" y="583.80" width="75.00" height="20.20" fill="url(#gBl)" stroke="none" stroke-width="0" />
<path d="M1402.70,583.80 V604.00 H1477.70 V583.80" fill="none" stroke="#000" stroke-width="2.0"/>
<line x1="984.50" y1="237.60" x2="984.50" y2="241.20" stroke="#000" stroke-width="1.8" stroke-linecap="butt"/>
<line x1="979.25" y1="237.60" x2="989.75" y2="237.60" stroke="#000" stroke-width="2.2" stroke-linecap="butt"/>
<line x1="979.25" y1="241.20" x2="989.75" y2="241.20" stroke="#000" stroke-width="2.2" stroke-linecap="butt"/>
<line x1="1136.40" y1="232.70" x2="1136.40" y2="268.30" stroke="#000" stroke-width="1.8" stroke-linecap="butt"/>
<line x1="1131.15" y1="232.70" x2="1141.65" y2="232.70" stroke="#000" stroke-width="2.2" stroke-linecap="butt"/>
<line x1="1131.15" y1="268.30" x2="1141.65" y2="268.30" stroke="#000" stroke-width="2.2" stroke-linecap="butt"/>
<line x1="1288.30" y1="199.00" x2="1288.30" y2="267.50" stroke="#000" stroke-width="1.8" stroke-linecap="butt"/>
<line x1="1283.05" y1="199.00" x2="1293.55" y2="199.00" stroke="#000" stroke-width="2.2" stroke-linecap="butt"/>
<line x1="1283.05" y1="267.50" x2="1293.55" y2="267.50" stroke="#000" stroke-width="2.2" stroke-linecap="butt"/>
<line x1="1440.20" y1="188.40" x2="1440.20" y2="283.60" stroke="#000" stroke-width="1.8" stroke-linecap="butt"/>
<line x1="1434.95" y1="188.40" x2="1445.45" y2="188.40" stroke="#000" stroke-width="2.2" stroke-linecap="butt"/>
<line x1="1434.95" y1="283.60" x2="1445.45" y2="283.60" stroke="#000" stroke-width="2.2" stroke-linecap="butt"/>
<line x1="908.80" y1="110.10" x2="1516.40" y2="110.10" stroke="#000" stroke-width="2.6" stroke-linecap="square"/>
<line x1="908.80" y1="110.10" x2="908.80" y2="573.50" stroke="#000" stroke-width="2.6" stroke-linecap="butt"/>
<line x1="908.80" y1="585.50" x2="908.80" y2="609.50" stroke="#000" stroke-width="2.6" stroke-linecap="butt"/>
<line x1="1516.40" y1="110.10" x2="1516.40" y2="573.50" stroke="#000" stroke-width="2.6" stroke-linecap="butt"/>
<line x1="1516.40" y1="585.50" x2="1516.40" y2="609.50" stroke="#000" stroke-width="2.6" stroke-linecap="butt"/>
<line x1="907.50" y1="604.00" x2="1517.70" y2="604.00" stroke="#000" stroke-width="2.6" stroke-linecap="butt"/>
<line x1="898.60" y1="579.70" x2="919.00" y2="570.30" stroke="#000" stroke-width="2.4" stroke-linecap="round"/>
<line x1="898.60" y1="588.10" x2="919.00" y2="578.70" stroke="#000" stroke-width="2.4" stroke-linecap="round"/>
<line x1="1506.20" y1="579.70" x2="1526.60" y2="570.30" stroke="#000" stroke-width="2.4" stroke-linecap="round"/>
<line x1="1506.20" y1="588.10" x2="1526.60" y2="578.70" stroke="#000" stroke-width="2.4" stroke-linecap="round"/>
<line x1="899.80" y1="110.10" x2="908.80" y2="110.10" stroke="#000" stroke-width="2.4" stroke-linecap="butt"/>
<line x1="899.80" y1="242.93" x2="908.80" y2="242.93" stroke="#000" stroke-width="2.4" stroke-linecap="butt"/>
<line x1="899.80" y1="375.76" x2="908.80" y2="375.76" stroke="#000" stroke-width="2.4" stroke-linecap="butt"/>
<line x1="899.80" y1="508.59" x2="908.80" y2="508.59" stroke="#000" stroke-width="2.4" stroke-linecap="butt"/>
<line x1="903.30" y1="176.51" x2="908.80" y2="176.51" stroke="#000" stroke-width="2.4" stroke-linecap="butt"/>
<line x1="903.30" y1="309.35" x2="908.80" y2="309.35" stroke="#000" stroke-width="2.4" stroke-linecap="butt"/>
<line x1="903.30" y1="442.17" x2="908.80" y2="442.17" stroke="#000" stroke-width="2.4" stroke-linecap="butt"/>
<line x1="899.80" y1="604.00" x2="908.80" y2="604.00" stroke="#000" stroke-width="2.4" stroke-linecap="butt"/>
<line x1="903.30" y1="594.30" x2="908.80" y2="594.30" stroke="#000" stroke-width="2.4" stroke-linecap="butt"/>
<line x1="984.50" y1="604.00" x2="984.50" y2="614.00" stroke="#000" stroke-width="2.4" stroke-linecap="butt"/>
<line x1="1136.40" y1="604.00" x2="1136.40" y2="614.00" stroke="#000" stroke-width="2.4" stroke-linecap="butt"/>
<line x1="1288.30" y1="604.00" x2="1288.30" y2="614.00" stroke="#000" stroke-width="2.4" stroke-linecap="butt"/>
<line x1="1440.20" y1="604.00" x2="1440.20" y2="614.00" stroke="#000" stroke-width="2.4" stroke-linecap="butt"/>
<line x1="1060.45" y1="604.00" x2="1060.45" y2="609.50" stroke="#000" stroke-width="2.4" stroke-linecap="butt"/>
<line x1="1212.35" y1="604.00" x2="1212.35" y2="609.50" stroke="#000" stroke-width="2.4" stroke-linecap="butt"/>
<line x1="1364.25" y1="604.00" x2="1364.25" y2="609.50" stroke="#000" stroke-width="2.4" stroke-linecap="butt"/>
<g transform="translate(846.03,117.10) scale(1.0000,1)" fill="#000" ><text x="0.00" y="0" font-family='"Liberation Sans"' font-weight="bold" font-size="28.00" style="white-space:pre">110</text></g>
<g transform="translate(846.03,249.93) scale(1.0000,1)" fill="#000" ><text x="0.00" y="0" font-family='"Liberation Sans"' font-weight="bold" font-size="28.00" style="white-space:pre">100</text></g>
<g transform="translate(861.60,382.76) scale(1.0000,1)" fill="#000" ><text x="0.00" y="0" font-family='"Liberation Sans"' font-weight="bold" font-size="28.00" style="white-space:pre">90</text></g>
<g transform="translate(861.60,515.59) scale(1.0000,1)" fill="#000" ><text x="0.00" y="0" font-family='"Liberation Sans"' font-weight="bold" font-size="28.00" style="white-space:pre">80</text></g>
<g transform="translate(877.18,611.00) scale(1.0000,1)" fill="#000" ><text x="0.00" y="0" font-family='"Liberation Sans"' font-weight="bold" font-size="28.00" style="white-space:pre">0</text></g>
<g transform="translate(935.15,640.90) scale(1.0000,1)" fill="#000" ><text x="0.00" y="0" font-family='"Liberation Sans"' font-weight="bold" font-size="28.00" style="white-space:pre">Control</text></g>
<g transform="translate(1120.73,640.90) scale(1.0000,1)" fill="#000" ><text x="0.00" y="0" font-family='"Liberation Sans"' font-weight="bold" font-size="28.00" style="white-space:pre">25</text></g>
<g transform="translate(1272.87,640.90) scale(1.0000,1)" fill="#000" ><text x="0.00" y="0" font-family='"Liberation Sans"' font-weight="bold" font-size="28.00" style="white-space:pre">50</text></g>
<g transform="translate(1416.53,640.90) scale(1.0000,1)" fill="#000" ><text x="0.00" y="0" font-family='"Liberation Sans"' font-weight="bold" font-size="28.00" style="white-space:pre">100</text></g>
<g transform="translate(1013.18,677.70) scale(0.9112,1)" fill="#000" ><text x="0.00" y="0" font-family='"DejaVu Sans"' font-weight="bold" font-size="35.60" style="white-space:pre">Concentration (</text><text x="312.80" y="0" font-family='"Liberation Serif"' font-weight="normal" font-size="38.45" style="white-space:pre">μ</text><text x="333.42" y="0" font-family='"DejaVu Sans"' font-weight="bold" font-size="35.60" style="white-space:pre">g/ml)</text></g>
<g transform="translate(830.20,511.27) rotate(-90) scale(1.0684,1)" fill="#000"><text x="0.00" y="0" font-family='"DejaVu Sans"' font-weight="normal" font-size="28.31" style="white-space:pre">%</text></g>
<g transform="translate(830.40,473.05) rotate(-90) scale(0.9157,1)" fill="#000"><text x="0.00" y="0" font-family='"DejaVu Sans"' font-weight="bold" font-size="34.00" style="white-space:pre">Cell Viability</text></g>
<rect x="1339.60" y="128.60" width="59.80" height="28.70" fill="url(#gB)" stroke="#000" stroke-width="2.0" />
<g transform="translate(1408.14,151.80) scale(0.9568,1)" fill="#000" ><text x="0.00" y="0" font-family='"DejaVu Sans"' font-weight="bold" font-size="28.00" style="white-space:pre">PBMC</text></g>
<g transform="translate(924.97,147.60) scale(0.9336,1)" fill="#000" ><text x="0.00" y="0" font-family='"DejaVu Sans"' font-weight="bold" font-size="23.70" style="white-space:pre">MTT Assay</text></g>
<g transform="translate(968.73,218.40) scale(0.9184,1)" fill="#000" ><text x="0.00" y="0" font-family='"DejaVu Sans"' font-weight="bold" font-size="25.60" style="white-space:pre">ref</text></g>
<rect x="233.85" y="1274.80" width="57.70" height="178.10" fill="url(#gC)" stroke="#001010" stroke-width="1.8" />
<rect x="233.85" y="1463.80" width="57.70" height="19.20" fill="url(#gCl)" stroke="none" stroke-width="0" />
<path d="M233.85,1463.80 V1483.00 H291.55 V1463.80" fill="none" stroke="#001010" stroke-width="1.8"/>
<rect x="351.75" y="1225.60" width="57.70" height="227.30" fill="url(#gC)" stroke="#001010" stroke-width="1.8" />
<rect x="351.75" y="1463.80" width="57.70" height="19.20" fill="url(#gCl)" stroke="none" stroke-width="0" />
<path d="M351.75,1463.80 V1483.00 H409.45 V1463.80" fill="none" stroke="#001010" stroke-width="1.8"/>
<rect x="469.65" y="1218.90" width="57.70" height="234.00" fill="url(#gC)" stroke="#001010" stroke-width="1.8" />
<rect x="469.65" y="1463.80" width="57.70" height="19.20" fill="url(#gCl)" stroke="none" stroke-width="0" />
<path d="M469.65,1463.80 V1483.00 H527.35 V1463.80" fill="none" stroke="#001010" stroke-width="1.8"/>
<rect x="587.35" y="1201.90" width="57.70" height="251.00" fill="url(#gC)" stroke="#001010" stroke-width="1.8" />
<rect x="587.35" y="1463.80" width="57.70" height="19.20" fill="url(#gCl)" stroke="none" stroke-width="0" />
<path d="M587.35,1463.80 V1483.00 H645.05 V1463.80" fill="none" stroke="#001010" stroke-width="1.8"/>
<rect x="705.15" y="1167.40" width="57.70" height="285.50" fill="url(#gC)" stroke="#001010" stroke-width="1.8" />
<rect x="705.15" y="1463.80" width="57.70" height="19.20" fill="url(#gCl)" stroke="none" stroke-width="0" />
<path d="M705.15,1463.80 V1483.00 H762.85 V1463.80" fill="none" stroke="#001010" stroke-width="1.8"/>
<line x1="262.70" y1="1248.90" x2="262.70" y2="1298.30" stroke="#000" stroke-width="1.8" stroke-linecap="butt"/>
<line x1="257.45" y1="1248.90" x2="267.95" y2="1248.90" stroke="#000" stroke-width="2.2" stroke-linecap="butt"/>
<line x1="257.45" y1="1298.30" x2="267.95" y2="1298.30" stroke="#000" stroke-width="2.2" stroke-linecap="butt"/>
<line x1="380.60" y1="1150.80" x2="380.60" y2="1298.30" stroke="#000" stroke-width="1.8" stroke-linecap="butt"/>
<line x1="375.35" y1="1150.80" x2="385.85" y2="1150.80" stroke="#000" stroke-width="2.2" stroke-linecap="butt"/>
<line x1="375.35" y1="1298.30" x2="385.85" y2="1298.30" stroke="#000" stroke-width="2.2" stroke-linecap="butt"/>
<line x1="498.50" y1="1195.20" x2="498.50" y2="1240.90" stroke="#000" stroke-width="1.8" stroke-linecap="butt"/>
<line x1="493.25" y1="1195.20" x2="503.75" y2="1195.20" stroke="#000" stroke-width="2.2" stroke-linecap="butt"/>
<line x1="493.25" y1="1240.90" x2="503.75" y2="1240.90" stroke="#000" stroke-width="2.2" stroke-linecap="butt"/>
<line x1="616.20" y1="1151.30" x2="616.20" y2="1251.90" stroke="#000" stroke-width="1.8" stroke-linecap="butt"/>
<line x1="610.95" y1="1151.30" x2="621.45" y2="1151.30" stroke="#000" stroke-width="2.2" stroke-linecap="butt"/>
<line x1="610.95" y1="1251.90" x2="621.45" y2="1251.90" stroke="#000" stroke-width="2.2" stroke-linecap="butt"/>
<line x1="734.00" y1="1114.40" x2="734.00" y2="1219.00" stroke="#000" stroke-width="1.8" stroke-linecap="butt"/>
<line x1="728.75" y1="1114.40" x2="739.25" y2="1114.40" stroke="#000" stroke-width="2.2" stroke-linecap="butt"/>
<line x1="728.75" y1="1219.00" x2="739.25" y2="1219.00" stroke="#000" stroke-width="2.2" stroke-linecap="butt"/>
<line x1="203.60" y1="1003.10" x2="793.30" y2="1003.10" stroke="#000" stroke-width="2.6" stroke-linecap="square"/>
<line x1="203.60" y1="1003.10" x2="203.60" y2="1452.50" stroke="#000" stroke-width="2.6" stroke-linecap="butt"/>
<line x1="203.60" y1="1464.50" x2="203.60" y2="1488.50" stroke="#000" stroke-width="2.6" stroke-linecap="butt"/>
<line x1="793.30" y1="1003.10" x2="793.30" y2="1452.50" stroke="#000" stroke-width="2.6" stroke-linecap="butt"/>
<line x1="793.30" y1="1464.50" x2="793.30" y2="1488.50" stroke="#000" stroke-width="2.6" stroke-linecap="butt"/>
<line x1="202.30" y1="1483.00" x2="794.60" y2="1483.00" stroke="#000" stroke-width="2.6" stroke-linecap="butt"/>
<line x1="193.60" y1="1458.50" x2="213.60" y2="1449.90" stroke="#000" stroke-width="2.4" stroke-linecap="round"/>
<line x1="193.60" y1="1466.70" x2="213.60" y2="1458.10" stroke="#000" stroke-width="2.4" stroke-linecap="round"/>
<line x1="783.30" y1="1459.80" x2="803.30" y2="1450.20" stroke="#000" stroke-width="2.4" stroke-linecap="round"/>
<line x1="783.30" y1="1467.80" x2="803.30" y2="1458.20" stroke="#000" stroke-width="2.4" stroke-linecap="round"/>
<line x1="195.60" y1="1003.10" x2="203.60" y2="1003.10" stroke="#000" stroke-width="2.4" stroke-linecap="butt"/>
<line x1="195.60" y1="1093.23" x2="203.60" y2="1093.23" stroke="#000" stroke-width="2.4" stroke-linecap="butt"/>
<line x1="195.60" y1="1183.36" x2="203.60" y2="1183.36" stroke="#000" stroke-width="2.4" stroke-linecap="butt"/>
<line x1="195.60" y1="1273.49" x2="203.60" y2="1273.49" stroke="#000" stroke-width="2.4" stroke-linecap="butt"/>
<line x1="195.60" y1="1363.62" x2="203.60" y2="1363.62" stroke="#000" stroke-width="2.4" stroke-linecap="butt"/>
<line x1="195.60" y1="1453.75" x2="203.60" y2="1453.75" stroke="#000" stroke-width="2.4" stroke-linecap="butt"/>
<line x1="198.60" y1="1048.16" x2="203.60" y2="1048.16" stroke="#000" stroke-width="2.4" stroke-linecap="butt"/>
<line x1="198.60" y1="1138.30" x2="203.60" y2="1138.30" stroke="#000" stroke-width="2.4" stroke-linecap="butt"/>
<line x1="198.60" y1="1228.42" x2="203.60" y2="1228.42" stroke="#000" stroke-width="2.4" stroke-linecap="butt"/>
<line x1="198.60" y1="1318.56" x2="203.60" y2="1318.56" stroke="#000" stroke-width="2.4" stroke-linecap="butt"/>
<line x1="198.60" y1="1408.68" x2="203.60" y2="1408.68" stroke="#000" stroke-width="2.4" stroke-linecap="butt"/>
<line x1="195.60" y1="1483.00" x2="203.60" y2="1483.00" stroke="#000" stroke-width="2.4" stroke-linecap="butt"/>
<line x1="198.60" y1="1472.80" x2="203.60" y2="1472.80" stroke="#000" stroke-width="2.4" stroke-linecap="butt"/>
<line x1="262.70" y1="1483.00" x2="262.70" y2="1492.50" stroke="#000" stroke-width="2.4" stroke-linecap="butt"/>
<line x1="380.60" y1="1483.00" x2="380.60" y2="1492.50" stroke="#000" stroke-width="2.4" stroke-linecap="butt"/>
<line x1="498.50" y1="1483.00" x2="498.50" y2="1492.50" stroke="#000" stroke-width="2.4" stroke-linecap="butt"/>
<line x1="616.20" y1="1483.00" x2="616.20" y2="1492.50" stroke="#000" stroke-width="2.4" stroke-linecap="butt"/>
<line x1="734.00" y1="1483.00" x2="734.00" y2="1492.50" stroke="#000" stroke-width="2.4" stroke-linecap="butt"/>
<line x1="321.65" y1="1483.00" x2="321.65" y2="1488.50" stroke="#000" stroke-width="2.4" stroke-linecap="butt"/>
<line x1="439.55" y1="1483.00" x2="439.55" y2="1488.50" stroke="#000" stroke-width="2.4" stroke-linecap="butt"/>
<line x1="557.35" y1="1483.00" x2="557.35" y2="1488.50" stroke="#000" stroke-width="2.4" stroke-linecap="butt"/>
<line x1="675.10" y1="1483.00" x2="675.10" y2="1488.50" stroke="#000" stroke-width="2.4" stroke-linecap="butt"/>
<g transform="translate(142.93,1010.10) scale(1.0000,1)" fill="#000" ><text x="0.00" y="0" font-family='"Liberation Sans"' font-weight="bold" font-size="27.20" style="white-space:pre">130</text></g>
<g transform="translate(142.93,1100.23) scale(1.0000,1)" fill="#000" ><text x="0.00" y="0" font-family='"Liberation Sans"' font-weight="bold" font-size="27.20" style="white-space:pre">120</text></g>
<g transform="translate(142.93,1190.36) scale(1.0000,1)" fill="#000" ><text x="0.00" y="0" font-family='"Liberation Sans"' font-weight="bold" font-size="27.20" style="white-space:pre">110</text></g>
<g transform="translate(142.93,1280.49) scale(1.0000,1)" fill="#000" ><text x="0.00" y="0" font-family='"Liberation Sans"' font-weight="bold" font-size="27.20" style="white-space:pre">100</text></g>
<g transform="translate(158.06,1370.62) scale(1.0000,1)" fill="#000" ><text x="0.00" y="0" font-family='"Liberation Sans"' font-weight="bold" font-size="27.20" style="white-space:pre">90</text></g>
<g transform="translate(158.06,1460.75) scale(1.0000,1)" fill="#000" ><text x="0.00" y="0" font-family='"Liberation Sans"' font-weight="bold" font-size="27.20" style="white-space:pre">80</text></g>
<g transform="translate(173.19,1490.00) scale(1.0000,1)" fill="#000" ><text x="0.00" y="0" font-family='"Liberation Sans"' font-weight="bold" font-size="27.20" style="white-space:pre">0</text></g>
<g transform="translate(214.76,1518.00) scale(1.0000,1)" fill="#000" ><text x="0.00" y="0" font-family='"Liberation Sans"' font-weight="bold" font-size="27.20" style="white-space:pre">Control</text></g>
<g transform="translate(365.38,1518.00) scale(1.0000,1)" fill="#000" ><text x="0.00" y="0" font-family='"Liberation Sans"' font-weight="bold" font-size="27.20" style="white-space:pre">25</text></g>
<g transform="translate(483.51,1518.00) scale(1.0000,1)" fill="#000" ><text x="0.00" y="0" font-family='"Liberation Sans"' font-weight="bold" font-size="27.20" style="white-space:pre">50</text></g>
<g transform="translate(593.21,1518.00) scale(1.0000,1)" fill="#000" ><text x="0.00" y="0" font-family='"Liberation Sans"' font-weight="bold" font-size="27.20" style="white-space:pre">100</text></g>
<g transform="translate(711.40,1518.00) scale(1.0000,1)" fill="#000" ><text x="0.00" y="0" font-family='"Liberation Sans"' font-weight="bold" font-size="27.20" style="white-space:pre">200</text></g>
<g transform="translate(305.23,1552.00) scale(0.9400,1)" fill="#000" ><text x="0.00" y="0" font-family='"DejaVu Sans"' font-weight="bold" font-size="33.50" style="white-space:pre">Concentration (</text><text x="294.35" y="0" font-family='"Liberation Serif"' font-weight="normal" font-size="36.18" style="white-space:pre">μ</text><text x="313.75" y="0" font-family='"DejaVu Sans"' font-weight="bold" font-size="33.50" style="white-space:pre">g/ml)</text></g>
<g transform="translate(128.10,1393.00) rotate(-90) scale(1.0222,1)" fill="#000"><text x="0.00" y="0" font-family='"DejaVu Sans"' font-weight="normal" font-size="28.31" style="white-space:pre">%</text></g>
<g transform="translate(128.00,1355.31) rotate(-90) scale(0.9109,1)" fill="#000"><text x="0.00" y="0" font-family='"DejaVu Sans"' font-weight="bold" font-size="33.20" style="white-space:pre">Cell Viability</text></g>
<rect x="614.60" y="1021.70" width="57.90" height="28.10" fill="url(#gC)" stroke="#001010" stroke-width="2.0" />
<g transform="translate(681.61,1043.60) scale(0.9881,1)" fill="#000" ><text x="0.00" y="0" font-family='"DejaVu Sans"' font-weight="bold" font-size="26.30" style="white-space:pre">CaCO2</text></g>
<g transform="translate(219.62,1040.20) scale(0.8972,1)" fill="#000" ><text x="0.00" y="0" font-family='"DejaVu Sans"' font-weight="bold" font-size="24.00" style="white-space:pre">MTT Assay</text></g>
<g transform="translate(243.28,1231.80) scale(0.9688,1)" fill="#000" ><text x="0.00" y="0" font-family='"DejaVu Sans"' font-weight="bold" font-size="27.30" style="white-space:pre">ref</text></g>
<g transform="translate(608.88,1131.84) scale(1.0706,1)" fill="#000" ><text x="0.00" y="0" font-family='"DejaVu Sans Mono"' font-weight="bold" font-size="27.13" style="white-space:pre">*</text></g>
<g transform="translate(724.00,1093.40) scale(1.0546,1)" fill="#000" ><text x="0.00" y="0" font-family='"DejaVu Sans Mono"' font-weight="bold" font-size="27.35" style="white-space:pre">*</text></g>
<rect x="1124.10" y="1196.90" width="58.20" height="260.00" fill="url(#gD)" stroke="#150800" stroke-width="1.8" />
<rect x="1124.10" y="1467.20" width="58.20" height="19.30" fill="url(#gDl)" stroke="none" stroke-width="0" />
<path d="M1124.10,1467.20 V1486.50 H1182.30 V1467.20" fill="none" stroke="#150800" stroke-width="1.8"/>
<rect x="1243.30" y="1129.80" width="58.20" height="327.10" fill="url(#gD)" stroke="#150800" stroke-width="1.8" />
<rect x="1243.30" y="1467.20" width="58.20" height="19.30" fill="url(#gDl)" stroke="none" stroke-width="0" />
<path d="M1243.30,1467.20 V1486.50 H1301.50 V1467.20" fill="none" stroke="#150800" stroke-width="1.8"/>
<rect x="1362.30" y="1145.10" width="58.20" height="311.80" fill="url(#gD)" stroke="#150800" stroke-width="1.8" />
<rect x="1362.30" y="1467.20" width="58.20" height="19.30" fill="url(#gDl)" stroke="none" stroke-width="0" />
<path d="M1362.30,1467.20 V1486.50 H1420.50 V1467.20" fill="none" stroke="#150800" stroke-width="1.8"/>
<rect x="1481.20" y="1167.90" width="58.20" height="289.00" fill="url(#gD)" stroke="#150800" stroke-width="1.8" />
<rect x="1481.20" y="1467.20" width="58.20" height="19.30" fill="url(#gDl)" stroke="none" stroke-width="0" />
<path d="M1481.20,1467.20 V1486.50 H1539.40 V1467.20" fill="none" stroke="#150800" stroke-width="1.8"/>
<rect x="1600.20" y="1192.60" width="58.20" height="264.30" fill="url(#gD)" stroke="#150800" stroke-width="1.8" />
<rect x="1600.20" y="1467.20" width="58.20" height="19.30" fill="url(#gDl)" stroke="none" stroke-width="0" />
<path d="M1600.20,1467.20 V1486.50 H1658.40 V1467.20" fill="none" stroke="#150800" stroke-width="1.8"/>
<line x1="1153.20" y1="1171.40" x2="1153.20" y2="1222.50" stroke="#000" stroke-width="1.8" stroke-linecap="butt"/>
<line x1="1147.95" y1="1171.40" x2="1158.45" y2="1171.40" stroke="#000" stroke-width="2.2" stroke-linecap="butt"/>
<line x1="1147.95" y1="1222.50" x2="1158.45" y2="1222.50" stroke="#000" stroke-width="2.2" stroke-linecap="butt"/>
<line x1="1272.40" y1="1106.50" x2="1272.40" y2="1152.10" stroke="#000" stroke-width="1.8" stroke-linecap="butt"/>
<line x1="1267.15" y1="1106.50" x2="1277.65" y2="1106.50" stroke="#000" stroke-width="2.2" stroke-linecap="butt"/>
<line x1="1267.15" y1="1152.10" x2="1277.65" y2="1152.10" stroke="#000" stroke-width="2.2" stroke-linecap="butt"/>
<line x1="1391.40" y1="1105.50" x2="1391.40" y2="1183.20" stroke="#000" stroke-width="1.8" stroke-linecap="butt"/>
<line x1="1386.15" y1="1105.50" x2="1396.65" y2="1105.50" stroke="#000" stroke-width="2.2" stroke-linecap="butt"/>
<line x1="1386.15" y1="1183.20" x2="1396.65" y2="1183.20" stroke="#000" stroke-width="2.2" stroke-linecap="butt"/>
<line x1="1510.30" y1="1132.00" x2="1510.30" y2="1202.70" stroke="#000" stroke-width="1.8" stroke-linecap="butt"/>
<line x1="1505.05" y1="1132.00" x2="1515.55" y2="1132.00" stroke="#000" stroke-width="2.2" stroke-linecap="butt"/>
<line x1="1505.05" y1="1202.70" x2="1515.55" y2="1202.70" stroke="#000" stroke-width="2.2" stroke-linecap="butt"/>
<line x1="1629.30" y1="1177.90" x2="1629.30" y2="1205.30" stroke="#000" stroke-width="1.8" stroke-linecap="butt"/>
<line x1="1624.05" y1="1177.90" x2="1634.55" y2="1177.90" stroke="#000" stroke-width="2.2" stroke-linecap="butt"/>
<line x1="1624.05" y1="1205.30" x2="1634.55" y2="1205.30" stroke="#000" stroke-width="2.2" stroke-linecap="butt"/>
<line x1="1093.50" y1="1003.20" x2="1689.00" y2="1003.20" stroke="#000" stroke-width="2.6" stroke-linecap="square"/>
<line x1="1093.50" y1="1003.20" x2="1093.50" y2="1456.50" stroke="#000" stroke-width="2.6" stroke-linecap="butt"/>
<line x1="1093.50" y1="1468.50" x2="1093.50" y2="1492.50" stroke="#000" stroke-width="2.6" stroke-linecap="butt"/>
<line x1="1689.00" y1="1003.20" x2="1689.00" y2="1456.50" stroke="#000" stroke-width="2.6" stroke-linecap="butt"/>
<line x1="1689.00" y1="1468.50" x2="1689.00" y2="1492.50" stroke="#000" stroke-width="2.6" stroke-linecap="butt"/>
<line x1="1092.20" y1="1486.50" x2="1690.30" y2="1486.50" stroke="#000" stroke-width="2.6" stroke-linecap="butt"/>
<line x1="1083.50" y1="1463.00" x2="1103.50" y2="1453.40" stroke="#000" stroke-width="2.4" stroke-linecap="round"/>
<line x1="1083.50" y1="1471.40" x2="1103.50" y2="1461.80" stroke="#000" stroke-width="2.4" stroke-linecap="round"/>
<line x1="1679.00" y1="1463.00" x2="1699.00" y2="1453.40" stroke="#000" stroke-width="2.4" stroke-linecap="round"/>
<line x1="1679.00" y1="1471.40" x2="1699.00" y2="1461.80" stroke="#000" stroke-width="2.4" stroke-linecap="round"/>
<line x1="1085.50" y1="1003.10" x2="1093.50" y2="1003.10" stroke="#000" stroke-width="2.4" stroke-linecap="butt"/>
<line x1="1085.50" y1="1104.40" x2="1093.50" y2="1104.40" stroke="#000" stroke-width="2.4" stroke-linecap="butt"/>
<line x1="1085.50" y1="1205.70" x2="1093.50" y2="1205.70" stroke="#000" stroke-width="2.4" stroke-linecap="butt"/>
<line x1="1085.50" y1="1307.00" x2="1093.50" y2="1307.00" stroke="#000" stroke-width="2.4" stroke-linecap="butt"/>
<line x1="1085.50" y1="1408.30" x2="1093.50" y2="1408.30" stroke="#000" stroke-width="2.4" stroke-linecap="butt"/>
<line x1="1088.50" y1="1053.75" x2="1093.50" y2="1053.75" stroke="#000" stroke-width="2.4" stroke-linecap="butt"/>
<line x1="1088.50" y1="1155.05" x2="1093.50" y2="1155.05" stroke="#000" stroke-width="2.4" stroke-linecap="butt"/>
<line x1="1088.50" y1="1256.35" x2="1093.50" y2="1256.35" stroke="#000" stroke-width="2.4" stroke-linecap="butt"/>
<line x1="1088.50" y1="1357.65" x2="1093.50" y2="1357.65" stroke="#000" stroke-width="2.4" stroke-linecap="butt"/>
<line x1="1085.50" y1="1486.50" x2="1093.50" y2="1486.50" stroke="#000" stroke-width="2.4" stroke-linecap="butt"/>
<line x1="1088.50" y1="1476.30" x2="1093.50" y2="1476.30" stroke="#000" stroke-width="2.4" stroke-linecap="butt"/>
<line x1="1153.20" y1="1486.50" x2="1153.20" y2="1496.50" stroke="#000" stroke-width="2.4" stroke-linecap="butt"/>
<line x1="1272.40" y1="1486.50" x2="1272.40" y2="1496.50" stroke="#000" stroke-width="2.4" stroke-linecap="butt"/>
<line x1="1391.40" y1="1486.50" x2="1391.40" y2="1496.50" stroke="#000" stroke-width="2.4" stroke-linecap="butt"/>
<line x1="1510.30" y1="1486.50" x2="1510.30" y2="1496.50" stroke="#000" stroke-width="2.4" stroke-linecap="butt"/>
<line x1="1629.30" y1="1486.50" x2="1629.30" y2="1496.50" stroke="#000" stroke-width="2.4" stroke-linecap="butt"/>
<line x1="1212.80" y1="1486.50" x2="1212.80" y2="1492.00" stroke="#000" stroke-width="2.4" stroke-linecap="butt"/>
<line x1="1331.90" y1="1486.50" x2="1331.90" y2="1492.00" stroke="#000" stroke-width="2.4" stroke-linecap="butt"/>
<line x1="1450.85" y1="1486.50" x2="1450.85" y2="1492.00" stroke="#000" stroke-width="2.4" stroke-linecap="butt"/>
<line x1="1569.80" y1="1486.50" x2="1569.80" y2="1492.00" stroke="#000" stroke-width="2.4" stroke-linecap="butt"/>
<g transform="translate(1032.73,1010.10) scale(1.0000,1)" fill="#000" ><text x="0.00" y="0" font-family='"Liberation Sans"' font-weight="bold" font-size="27.20" style="white-space:pre">120</text></g>
<g transform="translate(1032.73,1111.40) scale(1.0000,1)" fill="#000" ><text x="0.00" y="0" font-family='"Liberation Sans"' font-weight="bold" font-size="27.20" style="white-space:pre">110</text></g>
<g transform="translate(1032.73,1212.70) scale(1.0000,1)" fill="#000" ><text x="0.00" y="0" font-family='"Liberation Sans"' font-weight="bold" font-size="27.20" style="white-space:pre">100</text></g>
<g transform="translate(1047.86,1314.00) scale(1.0000,1)" fill="#000" ><text x="0.00" y="0" font-family='"Liberation Sans"' font-weight="bold" font-size="27.20" style="white-space:pre">90</text></g>
<g transform="translate(1047.86,1415.30) scale(1.0000,1)" fill="#000" ><text x="0.00" y="0" font-family='"Liberation Sans"' font-weight="bold" font-size="27.20" style="white-space:pre">80</text></g>
<g transform="translate(1062.99,1493.50) scale(1.0000,1)" fill="#000" ><text x="0.00" y="0" font-family='"Liberation Sans"' font-weight="bold" font-size="27.20" style="white-space:pre">0</text></g>
<g transform="translate(1105.26,1522.30) scale(1.0000,1)" fill="#000" ><text x="0.00" y="0" font-family='"Liberation Sans"' font-weight="bold" font-size="27.20" style="white-space:pre">Control</text></g>
<g transform="translate(1257.18,1522.30) scale(1.0000,1)" fill="#000" ><text x="0.00" y="0" font-family='"Liberation Sans"' font-weight="bold" font-size="27.20" style="white-space:pre">25</text></g>
<g transform="translate(1376.41,1522.30) scale(1.0000,1)" fill="#000" ><text x="0.00" y="0" font-family='"Liberation Sans"' font-weight="bold" font-size="27.20" style="white-space:pre">50</text></g>
<g transform="translate(1487.31,1522.30) scale(1.0000,1)" fill="#000" ><text x="0.00" y="0" font-family='"Liberation Sans"' font-weight="bold" font-size="27.20" style="white-space:pre">100</text></g>
<g transform="translate(1606.70,1522.30) scale(1.0000,1)" fill="#000" ><text x="0.00" y="0" font-family='"Liberation Sans"' font-weight="bold" font-size="27.20" style="white-space:pre">200</text></g>
<g transform="translate(1196.02,1556.60) scale(0.9453,1)" fill="#000" ><text x="0.00" y="0" font-family='"DejaVu Sans"' font-weight="bold" font-size="33.60" style="white-space:pre">Concentration (</text><text x="295.23" y="0" font-family='"Liberation Serif"' font-weight="normal" font-size="36.29" style="white-space:pre">μ</text><text x="314.69" y="0" font-family='"DejaVu Sans"' font-weight="bold" font-size="33.60" style="white-space:pre">g/ml)</text></g>
<g transform="translate(1016.91,1396.44) rotate(-90) scale(1.0623,1)" fill="#000"><text x="0.00" y="0" font-family='"DejaVu Sans"' font-weight="normal" font-size="27.91" style="white-space:pre">%</text></g>
<g transform="translate(1017.10,1358.41) rotate(-90) scale(0.9034,1)" fill="#000"><text x="0.00" y="0" font-family='"DejaVu Sans"' font-weight="bold" font-size="33.60" style="white-space:pre">Cell Viability</text></g>
<rect x="1508.40" y="1022.00" width="59.00" height="27.70" fill="url(#gD)" stroke="#150800" stroke-width="2.0" />
<g transform="translate(1575.91,1044.20) scale(1.0079,1)" fill="#000" ><text x="0.00" y="0" font-family='"DejaVu Sans"' font-weight="bold" font-size="25.80" style="white-space:pre">HepG2</text></g>
<g transform="translate(1109.61,1040.20) scale(0.9029,1)" fill="#000" ><text x="0.00" y="0" font-family='"DejaVu Sans"' font-weight="bold" font-size="24.00" style="white-space:pre">MTT Assay</text></g>
<g transform="translate(1134.41,1146.30) scale(0.9475,1)" fill="#000" ><text x="0.00" y="0" font-family='"DejaVu Sans"' font-weight="bold" font-size="27.50" style="white-space:pre">ref</text></g>
<g transform="translate(1265.13,1087.76) scale(1.0237,1)" fill="#000" ><text x="0.00" y="0" font-family='"DejaVu Sans Mono"' font-weight="bold" font-size="27.57" style="white-space:pre">*</text></g>
<rect x="56.50" y="858.20" width="819.70" height="127.80" fill="#ffffff" stroke="none" stroke-width="0" />
<rect x="56.5" y="858.2" width="162.7" height="126.6" fill="url(#mC)" filter="url(#fC)"/>
<g clip-path="url(#cc0)"><circle cx="130.4" cy="928.7" r="3.3" fill="#2e3234" fill-opacity="0.37" stroke="#d8d0b8" stroke-opacity="0.22" stroke-width="0.8"/><circle cx="139.1" cy="932.0" r="1.9" fill="#2e3234" fill-opacity="0.38" stroke="#d8d0b8" stroke-opacity="0.22" stroke-width="0.8"/><circle cx="158.2" cy="956.8" r="1.7" fill="#2e3234" fill-opacity="0.33" stroke="#d8d0b8" stroke-opacity="0.22" stroke-width="0.8"/><circle cx="73.7" cy="958.8" r="2.9" fill="#2e3234" fill-opacity="0.26" stroke="#d8d0b8" stroke-opacity="0.22" stroke-width="0.8"/><circle cx="213.4" cy="977.5" r="2.8" fill="#2e3234" fill-opacity="0.40" stroke="#d8d0b8" stroke-opacity="0.22" stroke-width="0.8"/><circle cx="84.2" cy="863.0" r="2.6" fill="#2e3234" fill-opacity="0.26" stroke="#d8d0b8" stroke-opacity="0.22" stroke-width="0.8"/><circle cx="89.3" cy="890.4" r="1.6" fill="#2e3234" fill-opacity="0.37" stroke="#d8d0b8" stroke-opacity="0.22" stroke-width="0.8"/><circle cx="128.5" cy="962.8" r="2.5" fill="#2e3234" fill-opacity="0.41" stroke="#d8d0b8" stroke-opacity="0.22" stroke-width="0.8"/><circle cx="137.8" cy="941.1" r="2.4" fill="#2e3234" fill-opacity="0.32" stroke="#d8d0b8" stroke-opacity="0.22" stroke-width="0.8"/><circle cx="215.8" cy="981.3" r="3.2" fill="#2e3234" fill-opacity="0.43" stroke="#d8d0b8" stroke-opacity="0.22" stroke-width="0.8"/><circle cx="108.9" cy="888.9" r="2.1" fill="#2e3234" fill-opacity="0.27" stroke="#d8d0b8" stroke-opacity="0.22" stroke-width="0.8"/><circle cx="179.6" cy="909.5" r="3.2" fill="#2e3234" fill-opacity="0.35" stroke="#d8d0b8" stroke-opacity="0.22" stroke-width="0.8"/><circle cx="209.6" cy="963.4" r="1.5" fill="#2e3234" fill-opacity="0.30" stroke="#d8d0b8" stroke-opacity="0.22" stroke-width="0.8"/><circle cx="202.1" cy="917.9" r="3.5" fill="#2e3234" fill-opacity="0.35" stroke="#d8d0b8" stroke-opacity="0.22" stroke-width="0.8"/><circle cx="70.9" cy="937.1" r="3.1" fill="#2e3234" fill-opacity="0.32" stroke="#d8d0b8" stroke-opacity="0.22" stroke-width="0.8"/><circle cx="73.2" cy="901.3" r="3.4" fill="#2e3234" fill-opacity="0.44" stroke="#d8d0b8" stroke-opacity="0.22" stroke-width="0.8"/><circle cx="78.0" cy="890.9" r="1.7" fill="#2e3234" fill-opacity="0.26" stroke="#d8d0b8" stroke-opacity="0.22" stroke-width="0.8"/><circle cx="184.4" cy="882.6" r="2.6" fill="#2e3234" fill-opacity="0.36" stroke="#d8d0b8" stroke-opacity="0.22" stroke-width="0.8"/><circle cx="89.4" cy="949.5" r="1.8" fill="#2e3234" fill-opacity="0.41" stroke="#d8d0b8" stroke-opacity="0.22" stroke-width="0.8"/><circle cx="77.8" cy="911.9" r="1.9" fill="#2e3234" fill-opacity="0.32" stroke="#d8d0b8" stroke-opacity="0.22" stroke-width="0.8"/><circle cx="211.6" cy="958.1" r="2.1" fill="#2e3234" fill-opacity="0.47" stroke="#d8d0b8" stroke-opacity="0.22" stroke-width="0.8"/><circle cx="92.5" cy="908.7" r="3.2" fill="#2e3234" fill-opacity="0.41" stroke="#d8d0b8" stroke-opacity="0.22" stroke-width="0.8"/><circle cx="75.2" cy="980.5" r="1.9" fill="#2e3234" fill-opacity="0.31" stroke="#d8d0b8" stroke-opacity="0.22" stroke-width="0.8"/><circle cx="180.6" cy="900.9" r="2.1" fill="#2e3234" fill-opacity="0.27" stroke="#d8d0b8" stroke-opacity="0.22" stroke-width="0.8"/><circle cx="73.6" cy="931.5" r="2.0" fill="#2e3234" fill-opacity="0.40" stroke="#d8d0b8" stroke-opacity="0.22" stroke-width="0.8"/><circle cx="117.7" cy="915.9" r="3.4" fill="#2e3234" fill-opacity="0.37" stroke="#d8d0b8" stroke-opacity="0.22" stroke-width="0.8"/><circle cx="149.5" cy="965.7" r="1.9" fill="#2e3234" fill-opacity="0.29" stroke="#d8d0b8" stroke-opacity="0.22" stroke-width="0.8"/><circle cx="201.8" cy="959.8" r="2.0" fill="#2e3234" fill-opacity="0.30" stroke="#d8d0b8" stroke-opacity="0.22" stroke-width="0.8"/><circle cx="175.4" cy="974.6" r="1.9" fill="#2e3234" fill-opacity="0.49" stroke="#d8d0b8" stroke-opacity="0.22" stroke-width="0.8"/><circle cx="197.7" cy="934.0" r="2.3" fill="#2e3234" fill-opacity="0.28" stroke="#d8d0b8" stroke-opacity="0.22" stroke-width="0.8"/></g>
<g transform="translate(193.51,868.60) scale(0.8621,1)" fill="#f4f4f4" ><text x="0.00" y="0" font-family='"Liberation Sans"' font-weight="normal" font-size="9.00" style="white-space:pre">Control</text></g>
<rect x="223.3" y="858.2" width="162.0" height="126.6" fill="url(#mC)" filter="url(#fC)"/>
<g clip-path="url(#cc1)"><circle cx="254.6" cy="941.0" r="3.0" fill="#2e3234" fill-opacity="0.30" stroke="#d8d0b8" stroke-opacity="0.22" stroke-width="0.8"/><circle cx="302.7" cy="920.8" r="3.4" fill="#2e3234" fill-opacity="0.36" stroke="#d8d0b8" stroke-opacity="0.22" stroke-width="0.8"/><circle cx="267.6" cy="891.8" r="4.1" fill="#2e3234" fill-opacity="0.33" stroke="#d8d0b8" stroke-opacity="0.22" stroke-width="0.8"/><circle cx="331.6" cy="956.1" r="4.6" fill="#2e3234" fill-opacity="0.49" stroke="#d8d0b8" stroke-opacity="0.22" stroke-width="0.8"/><circle cx="262.9" cy="889.8" r="4.2" fill="#2e3234" fill-opacity="0.39" stroke="#d8d0b8" stroke-opacity="0.22" stroke-width="0.8"/><circle cx="257.8" cy="942.9" r="4.6" fill="#2e3234" fill-opacity="0.46" stroke="#d8d0b8" stroke-opacity="0.22" stroke-width="0.8"/><circle cx="260.0" cy="897.3" r="2.0" fill="#2e3234" fill-opacity="0.49" stroke="#d8d0b8" stroke-opacity="0.22" stroke-width="0.8"/><circle cx="260.7" cy="948.9" r="3.6" fill="#2e3234" fill-opacity="0.40" stroke="#d8d0b8" stroke-opacity="0.22" stroke-width="0.8"/><circle cx="308.5" cy="960.8" r="3.8" fill="#2e3234" fill-opacity="0.33" stroke="#d8d0b8" stroke-opacity="0.22" stroke-width="0.8"/><circle cx="244.2" cy="918.8" r="4.8" fill="#2e3234" fill-opacity="0.29" stroke="#d8d0b8" stroke-opacity="0.22" stroke-width="0.8"/><circle cx="333.0" cy="937.3" r="2.5" fill="#2e3234" fill-opacity="0.30" stroke="#d8d0b8" stroke-opacity="0.22" stroke-width="0.8"/><circle cx="333.4" cy="913.9" r="3.2" fill="#2e3234" fill-opacity="0.37" stroke="#d8d0b8" stroke-opacity="0.22" stroke-width="0.8"/><circle cx="242.1" cy="946.2" r="3.8" fill="#2e3234" fill-opacity="0.38" stroke="#d8d0b8" stroke-opacity="0.22" stroke-width="0.8"/><circle cx="279.3" cy="959.1" r="4.5" fill="#2e3234" fill-opacity="0.39" stroke="#d8d0b8" stroke-opacity="0.22" stroke-width="0.8"/><circle cx="240.1" cy="879.0" r="2.5" fill="#2e3234" fill-opacity="0.27" stroke="#d8d0b8" stroke-opacity="0.22" stroke-width="0.8"/><circle cx="327.4" cy="926.7" r="2.6" fill="#2e3234" fill-opacity="0.48" stroke="#d8d0b8" stroke-opacity="0.22" stroke-width="0.8"/><circle cx="324.5" cy="956.7" r="4.5" fill="#2e3234" fill-opacity="0.42" stroke="#d8d0b8" stroke-opacity="0.22" stroke-width="0.8"/><circle cx="308.5" cy="980.0" r="2.4" fill="#2e3234" fill-opacity="0.42" stroke="#d8d0b8" stroke-opacity="0.22" stroke-width="0.8"/><circle cx="364.2" cy="918.9" r="4.5" fill="#2e3234" fill-opacity="0.30" stroke="#d8d0b8" stroke-opacity="0.22" stroke-width="0.8"/><circle cx="291.2" cy="893.9" r="3.2" fill="#2e3234" fill-opacity="0.43" stroke="#d8d0b8" stroke-opacity="0.22" stroke-width="0.8"/><circle cx="248.7" cy="902.0" r="4.5" fill="#2e3234" fill-opacity="0.33" stroke="#d8d0b8" stroke-opacity="0.22" stroke-width="0.8"/><circle cx="246.0" cy="981.1" r="3.6" fill="#2e3234" fill-opacity="0.25" stroke="#d8d0b8" stroke-opacity="0.22" stroke-width="0.8"/><circle cx="315.4" cy="878.8" r="2.5" fill="#2e3234" fill-opacity="0.43" stroke="#d8d0b8" stroke-opacity="0.22" stroke-width="0.8"/><circle cx="328.0" cy="912.6" r="3.5" fill="#2e3234" fill-opacity="0.39" stroke="#d8d0b8" stroke-opacity="0.22" stroke-width="0.8"/><circle cx="297.9" cy="873.4" r="4.3" fill="#2e3234" fill-opacity="0.44" stroke="#d8d0b8" stroke-opacity="0.22" stroke-width="0.8"/><circle cx="292.1" cy="909.9" r="3.8" fill="#2e3234" fill-opacity="0.37" stroke="#d8d0b8" stroke-opacity="0.22" stroke-width="0.8"/><circle cx="291.1" cy="966.9" r="4.7" fill="#2e3234" fill-opacity="0.29" stroke="#d8d0b8" stroke-opacity="0.22" stroke-width="0.8"/><circle cx="253.2" cy="955.8" r="4.9" fill="#2e3234" fill-opacity="0.43" stroke="#d8d0b8" stroke-opacity="0.22" stroke-width="0.8"/><circle cx="272.6" cy="868.3" r="4.5" fill="#2e3234" fill-opacity="0.48" stroke="#d8d0b8" stroke-opacity="0.22" stroke-width="0.8"/><circle cx="344.6" cy="950.0" r="4.9" fill="#2e3234" fill-opacity="0.38" stroke="#d8d0b8" stroke-opacity="0.22" stroke-width="0.8"/><circle cx="371.4" cy="892.8" r="2.2" fill="#2e3234" fill-opacity="0.46" stroke="#d8d0b8" stroke-opacity="0.22" stroke-width="0.8"/><circle cx="335.3" cy="957.3" r="2.4" fill="#2e3234" fill-opacity="0.33" stroke="#d8d0b8" stroke-opacity="0.22" stroke-width="0.8"/><circle cx="317.9" cy="869.0" r="3.0" fill="#2e3234" fill-opacity="0.40" stroke="#d8d0b8" stroke-opacity="0.22" stroke-width="0.8"/><circle cx="372.4" cy="948.0" r="3.2" fill="#2e3234" fill-opacity="0.35" stroke="#d8d0b8" stroke-opacity="0.22" stroke-width="0.8"/><circle cx="306.3" cy="950.6" r="5.0" fill="#2e3234" fill-opacity="0.25" stroke="#d8d0b8" stroke-opacity="0.22" stroke-width="0.8"/><circle cx="370.7" cy="958.0" r="2.1" fill="#2e3234" fill-opacity="0.31" stroke="#d8d0b8" stroke-opacity="0.22" stroke-width="0.8"/><circle cx="269.0" cy="887.2" r="2.5" fill="#2e3234" fill-opacity="0.28" stroke="#d8d0b8" stroke-opacity="0.22" stroke-width="0.8"/><circle cx="331.7" cy="914.0" r="2.3" fill="#2e3234" fill-opacity="0.46" stroke="#d8d0b8" stroke-opacity="0.22" stroke-width="0.8"/><circle cx="356.6" cy="892.6" r="4.5" fill="#2e3234" fill-opacity="0.44" stroke="#d8d0b8" stroke-opacity="0.22" stroke-width="0.8"/><circle cx="309.0" cy="871.8" r="4.1" fill="#2e3234" fill-opacity="0.47" stroke="#d8d0b8" stroke-opacity="0.22" stroke-width="0.8"/><circle cx="364.7" cy="975.8" r="2.5" fill="#2e3234" fill-opacity="0.49" stroke="#d8d0b8" stroke-opacity="0.22" stroke-width="0.8"/><circle cx="240.9" cy="905.1" r="3.6" fill="#2e3234" fill-opacity="0.41" stroke="#d8d0b8" stroke-opacity="0.22" stroke-width="0.8"/><circle cx="308.9" cy="970.6" r="4.3" fill="#2e3234" fill-opacity="0.46" stroke="#d8d0b8" stroke-opacity="0.22" stroke-width="0.8"/><circle cx="331.9" cy="916.1" r="2.1" fill="#2e3234" fill-opacity="0.41" stroke="#d8d0b8" stroke-opacity="0.22" stroke-width="0.8"/><circle cx="372.2" cy="884.2" r="5.0" fill="#2e3234" fill-opacity="0.25" stroke="#d8d0b8" stroke-opacity="0.22" stroke-width="0.8"/><circle cx="288.2" cy="951.8" r="4.1" fill="#2e3234" fill-opacity="0.39" stroke="#d8d0b8" stroke-opacity="0.22" stroke-width="0.8"/><circle cx="270.1" cy="890.9" r="2.4" fill="#2e3234" fill-opacity="0.41" stroke="#d8d0b8" stroke-opacity="0.22" stroke-width="0.8"/><circle cx="229.2" cy="876.8" r="4.2" fill="#2e3234" fill-opacity="0.36" stroke="#d8d0b8" stroke-opacity="0.22" stroke-width="0.8"/><circle cx="229.0" cy="912.4" r="4.8" fill="#2e3234" fill-opacity="0.38" stroke="#d8d0b8" stroke-opacity="0.22" stroke-width="0.8"/><circle cx="268.2" cy="877.7" r="3.5" fill="#2e3234" fill-opacity="0.31" stroke="#d8d0b8" stroke-opacity="0.22" stroke-width="0.8"/><circle cx="269.2" cy="868.6" r="3.8" fill="#2e3234" fill-opacity="0.45" stroke="#d8d0b8" stroke-opacity="0.22" stroke-width="0.8"/><circle cx="305.3" cy="935.0" r="2.9" fill="#2e3234" fill-opacity="0.50" stroke="#d8d0b8" stroke-opacity="0.22" stroke-width="0.8"/><circle cx="271.0" cy="971.9" r="2.0" fill="#2e3234" fill-opacity="0.42" stroke="#d8d0b8" stroke-opacity="0.22" stroke-width="0.8"/><circle cx="362.1" cy="929.8" r="2.6" fill="#2e3234" fill-opacity="0.29" stroke="#d8d0b8" stroke-opacity="0.22" stroke-width="0.8"/><circle cx="380.5" cy="981.0" r="2.7" fill="#2e3234" fill-opacity="0.35" stroke="#d8d0b8" stroke-opacity="0.22" stroke-width="0.8"/></g>
<g transform="translate(353.32,868.60) scale(0.8411,1)" fill="#f4f4f4" ><text x="0.00" y="0" font-family='"Liberation Sans"' font-weight="normal" font-size="9.00" style="white-space:pre">25 </text><text x="12.51" y="0" font-family='"Liberation Sans"' font-weight="normal" font-size="9.00" style="white-space:pre">μ</text><text x="17.70" y="0" font-family='"Liberation Sans"' font-weight="normal" font-size="9.00" style="white-space:pre">g/ml</text></g>
<rect x="389.3" y="858.2" width="162.2" height="126.6" fill="url(#mC)" filter="url(#fC)"/>
<g clip-path="url(#cc2)"><circle cx="451.2" cy="973.0" r="4.5" fill="#2e3234" fill-opacity="0.30" stroke="#d8d0b8" stroke-opacity="0.22" stroke-width="0.8"/><circle cx="528.5" cy="938.0" r="2.1" fill="#2e3234" fill-opacity="0.49" stroke="#d8d0b8" stroke-opacity="0.22" stroke-width="0.8"/><circle cx="432.2" cy="898.1" r="3.3" fill="#2e3234" fill-opacity="0.40" stroke="#d8d0b8" stroke-opacity="0.22" stroke-width="0.8"/><circle cx="411.7" cy="944.0" r="4.5" fill="#2e3234" fill-opacity="0.38" stroke="#d8d0b8" stroke-opacity="0.22" stroke-width="0.8"/><circle cx="516.4" cy="936.6" r="4.5" fill="#2e3234" fill-opacity="0.30" stroke="#d8d0b8" stroke-opacity="0.22" stroke-width="0.8"/><circle cx="448.3" cy="917.8" r="2.3" fill="#2e3234" fill-opacity="0.49" stroke="#d8d0b8" stroke-opacity="0.22" stroke-width="0.8"/><circle cx="491.6" cy="873.0" r="3.7" fill="#2e3234" fill-opacity="0.35" stroke="#d8d0b8" stroke-opacity="0.22" stroke-width="0.8"/><circle cx="421.9" cy="880.6" r="3.4" fill="#2e3234" fill-opacity="0.27" stroke="#d8d0b8" stroke-opacity="0.22" stroke-width="0.8"/><circle cx="480.3" cy="923.3" r="2.4" fill="#2e3234" fill-opacity="0.47" stroke="#d8d0b8" stroke-opacity="0.22" stroke-width="0.8"/><circle cx="398.6" cy="882.0" r="4.5" fill="#2e3234" fill-opacity="0.31" stroke="#d8d0b8" stroke-opacity="0.22" stroke-width="0.8"/><circle cx="458.6" cy="928.7" r="3.3" fill="#2e3234" fill-opacity="0.37" stroke="#d8d0b8" stroke-opacity="0.22" stroke-width="0.8"/><circle cx="471.1" cy="919.4" r="2.2" fill="#2e3234" fill-opacity="0.45" stroke="#d8d0b8" stroke-opacity="0.22" stroke-width="0.8"/><circle cx="436.5" cy="867.0" r="3.2" fill="#2e3234" fill-opacity="0.45" stroke="#d8d0b8" stroke-opacity="0.22" stroke-width="0.8"/><circle cx="490.5" cy="916.3" r="3.4" fill="#2e3234" fill-opacity="0.30" stroke="#d8d0b8" stroke-opacity="0.22" stroke-width="0.8"/><circle cx="488.8" cy="903.5" r="2.2" fill="#2e3234" fill-opacity="0.28" stroke="#d8d0b8" stroke-opacity="0.22" stroke-width="0.8"/><circle cx="406.8" cy="943.8" r="4.6" fill="#2e3234" fill-opacity="0.44" stroke="#d8d0b8" stroke-opacity="0.22" stroke-width="0.8"/><circle cx="426.6" cy="878.9" r="4.9" fill="#2e3234" fill-opacity="0.34" stroke="#d8d0b8" stroke-opacity="0.22" stroke-width="0.8"/><circle cx="418.4" cy="930.1" r="3.9" fill="#2e3234" fill-opacity="0.39" stroke="#d8d0b8" stroke-opacity="0.22" stroke-width="0.8"/><circle cx="462.9" cy="897.8" r="3.5" fill="#2e3234" fill-opacity="0.36" stroke="#d8d0b8" stroke-opacity="0.22" stroke-width="0.8"/><circle cx="498.7" cy="915.3" r="3.1" fill="#2e3234" fill-opacity="0.50" stroke="#d8d0b8" stroke-opacity="0.22" stroke-width="0.8"/><circle cx="409.6" cy="952.3" r="3.3" fill="#2e3234" fill-opacity="0.45" stroke="#d8d0b8" stroke-opacity="0.22" stroke-width="0.8"/><circle cx="502.9" cy="929.5" r="3.8" fill="#2e3234" fill-opacity="0.31" stroke="#d8d0b8" stroke-opacity="0.22" stroke-width="0.8"/><circle cx="394.8" cy="951.2" r="2.8" fill="#2e3234" fill-opacity="0.28" stroke="#d8d0b8" stroke-opacity="0.22" stroke-width="0.8"/><circle cx="519.0" cy="932.5" r="2.1" fill="#2e3234" fill-opacity="0.38" stroke="#d8d0b8" stroke-opacity="0.22" stroke-width="0.8"/><circle cx="417.8" cy="965.5" r="2.8" fill="#2e3234" fill-opacity="0.48" stroke="#d8d0b8" stroke-opacity="0.22" stroke-width="0.8"/><circle cx="488.0" cy="870.6" r="3.2" fill="#2e3234" fill-opacity="0.49" stroke="#d8d0b8" stroke-opacity="0.22" stroke-width="0.8"/><circle cx="501.8" cy="879.9" r="3.1" fill="#2e3234" fill-opacity="0.32" stroke="#d8d0b8" stroke-opacity="0.22" stroke-width="0.8"/><circle cx="406.9" cy="932.8" r="4.1" fill="#2e3234" fill-opacity="0.30" stroke="#d8d0b8" stroke-opacity="0.22" stroke-width="0.8"/><circle cx="478.5" cy="965.1" r="4.7" fill="#2e3234" fill-opacity="0.29" stroke="#d8d0b8" stroke-opacity="0.22" stroke-width="0.8"/><circle cx="404.0" cy="971.2" r="3.0" fill="#2e3234" fill-opacity="0.29" stroke="#d8d0b8" stroke-opacity="0.22" stroke-width="0.8"/><circle cx="517.1" cy="893.1" r="4.2" fill="#2e3234" fill-opacity="0.42" stroke="#d8d0b8" stroke-opacity="0.22" stroke-width="0.8"/><circle cx="438.0" cy="916.8" r="2.9" fill="#2e3234" fill-opacity="0.45" stroke="#d8d0b8" stroke-opacity="0.22" stroke-width="0.8"/><circle cx="436.7" cy="894.2" r="4.6" fill="#2e3234" fill-opacity="0.32" stroke="#d8d0b8" stroke-opacity="0.22" stroke-width="0.8"/><circle cx="460.5" cy="923.4" r="2.0" fill="#2e3234" fill-opacity="0.32" stroke="#d8d0b8" stroke-opacity="0.22" stroke-width="0.8"/><circle cx="508.4" cy="979.5" r="3.0" fill="#2e3234" fill-opacity="0.37" stroke="#d8d0b8" stroke-opacity="0.22" stroke-width="0.8"/><circle cx="401.2" cy="920.1" r="3.1" fill="#2e3234" fill-opacity="0.38" stroke="#d8d0b8" stroke-opacity="0.22" stroke-width="0.8"/><circle cx="438.9" cy="899.1" r="4.7" fill="#2e3234" fill-opacity="0.44" stroke="#d8d0b8" stroke-opacity="0.22" stroke-width="0.8"/><circle cx="448.5" cy="869.7" r="2.2" fill="#2e3234" fill-opacity="0.27" stroke="#d8d0b8" stroke-opacity="0.22" stroke-width="0.8"/><circle cx="412.7" cy="931.5" r="3.6" fill="#2e3234" fill-opacity="0.28" stroke="#d8d0b8" stroke-opacity="0.22" stroke-width="0.8"/><circle cx="529.5" cy="942.0" r="4.1" fill="#2e3234" fill-opacity="0.47" stroke="#d8d0b8" stroke-opacity="0.22" stroke-width="0.8"/><circle cx="441.3" cy="970.1" r="4.9" fill="#2e3234" fill-opacity="0.48" stroke="#d8d0b8" stroke-opacity="0.22" stroke-width="0.8"/><circle cx="399.5" cy="963.8" r="5.0" fill="#2e3234" fill-opacity="0.28" stroke="#d8d0b8" stroke-opacity="0.22" stroke-width="0.8"/><circle cx="527.5" cy="959.5" r="2.1" fill="#2e3234" fill-opacity="0.43" stroke="#d8d0b8" stroke-opacity="0.22" stroke-width="0.8"/><circle cx="510.9" cy="951.6" r="2.2" fill="#2e3234" fill-opacity="0.49" stroke="#d8d0b8" stroke-opacity="0.22" stroke-width="0.8"/><circle cx="403.9" cy="871.4" r="4.8" fill="#2e3234" fill-opacity="0.37" stroke="#d8d0b8" stroke-opacity="0.22" stroke-width="0.8"/><circle cx="420.2" cy="908.8" r="3.9" fill="#2e3234" fill-opacity="0.32" stroke="#d8d0b8" stroke-opacity="0.22" stroke-width="0.8"/><circle cx="535.1" cy="942.7" r="3.2" fill="#2e3234" fill-opacity="0.34" stroke="#d8d0b8" stroke-opacity="0.22" stroke-width="0.8"/><circle cx="410.4" cy="980.1" r="2.9" fill="#2e3234" fill-opacity="0.48" stroke="#d8d0b8" stroke-opacity="0.22" stroke-width="0.8"/><circle cx="476.6" cy="926.0" r="2.5" fill="#2e3234" fill-opacity="0.38" stroke="#d8d0b8" stroke-opacity="0.22" stroke-width="0.8"/><circle cx="407.7" cy="915.2" r="3.8" fill="#2e3234" fill-opacity="0.48" stroke="#d8d0b8" stroke-opacity="0.22" stroke-width="0.8"/><circle cx="426.8" cy="883.1" r="4.4" fill="#2e3234" fill-opacity="0.28" stroke="#d8d0b8" stroke-opacity="0.22" stroke-width="0.8"/><circle cx="422.7" cy="918.9" r="3.3" fill="#2e3234" fill-opacity="0.50" stroke="#d8d0b8" stroke-opacity="0.22" stroke-width="0.8"/><circle cx="402.5" cy="966.2" r="3.4" fill="#2e3234" fill-opacity="0.28" stroke="#d8d0b8" stroke-opacity="0.22" stroke-width="0.8"/><circle cx="429.5" cy="970.8" r="2.5" fill="#2e3234" fill-opacity="0.36" stroke="#d8d0b8" stroke-opacity="0.22" stroke-width="0.8"/><circle cx="398.4" cy="919.9" r="4.1" fill="#2e3234" fill-opacity="0.43" stroke="#d8d0b8" stroke-opacity="0.22" stroke-width="0.8"/><circle cx="445.4" cy="912.6" r="4.5" fill="#2e3234" fill-opacity="0.47" stroke="#d8d0b8" stroke-opacity="0.22" stroke-width="0.8"/><circle cx="461.9" cy="867.9" r="4.8" fill="#2e3234" fill-opacity="0.34" stroke="#d8d0b8" stroke-opacity="0.22" stroke-width="0.8"/><circle cx="466.6" cy="866.9" r="2.1" fill="#2e3234" fill-opacity="0.28" stroke="#d8d0b8" stroke-opacity="0.22" stroke-width="0.8"/><circle cx="477.3" cy="892.7" r="4.4" fill="#2e3234" fill-opacity="0.29" stroke="#d8d0b8" stroke-opacity="0.22" stroke-width="0.8"/><circle cx="494.6" cy="863.8" r="3.1" fill="#2e3234" fill-opacity="0.49" stroke="#d8d0b8" stroke-opacity="0.22" stroke-width="0.8"/></g>
<g transform="translate(520.91,868.60) scale(0.8122,1)" fill="#f4f4f4" ><text x="0.00" y="0" font-family='"Liberation Sans"' font-weight="normal" font-size="9.00" style="white-space:pre">50 </text><text x="12.51" y="0" font-family='"Liberation Sans"' font-weight="normal" font-size="9.00" style="white-space:pre">μ</text><text x="17.70" y="0" font-family='"Liberation Sans"' font-weight="normal" font-size="9.00" style="white-space:pre">g/ml</text></g>
<rect x="555.2" y="858.2" width="167.7" height="126.6" fill="url(#mC)" filter="url(#fC)"/>
<g clip-path="url(#cc3)"><circle cx="570.7" cy="887.0" r="2.9" fill="#2e3234" fill-opacity="0.48" stroke="#d8d0b8" stroke-opacity="0.22" stroke-width="0.8"/><circle cx="638.4" cy="948.1" r="2.3" fill="#2e3234" fill-opacity="0.38" stroke="#d8d0b8" stroke-opacity="0.22" stroke-width="0.8"/><circle cx="694.5" cy="924.2" r="4.8" fill="#2e3234" fill-opacity="0.47" stroke="#d8d0b8" stroke-opacity="0.22" stroke-width="0.8"/><circle cx="618.2" cy="861.3" r="4.3" fill="#2e3234" fill-opacity="0.28" stroke="#d8d0b8" stroke-opacity="0.22" stroke-width="0.8"/><circle cx="559.7" cy="949.3" r="4.5" fill="#2e3234" fill-opacity="0.46" stroke="#d8d0b8" stroke-opacity="0.22" stroke-width="0.8"/><circle cx="712.4" cy="885.5" r="2.2" fill="#2e3234" fill-opacity="0.28" stroke="#d8d0b8" stroke-opacity="0.22" stroke-width="0.8"/><circle cx="716.3" cy="874.7" r="2.5" fill="#2e3234" fill-opacity="0.26" stroke="#d8d0b8" stroke-opacity="0.22" stroke-width="0.8"/><circle cx="566.2" cy="865.8" r="3.1" fill="#2e3234" fill-opacity="0.29" stroke="#d8d0b8" stroke-opacity="0.22" stroke-width="0.8"/><circle cx="608.3" cy="973.2" r="2.5" fill="#2e3234" fill-opacity="0.45" stroke="#d8d0b8" stroke-opacity="0.22" stroke-width="0.8"/><circle cx="677.6" cy="929.8" r="3.7" fill="#2e3234" fill-opacity="0.44" stroke="#d8d0b8" stroke-opacity="0.22" stroke-width="0.8"/><circle cx="653.1" cy="888.9" r="3.0" fill="#2e3234" fill-opacity="0.31" stroke="#d8d0b8" stroke-opacity="0.22" stroke-width="0.8"/><circle cx="623.0" cy="980.3" r="3.3" fill="#2e3234" fill-opacity="0.27" stroke="#d8d0b8" stroke-opacity="0.22" stroke-width="0.8"/><circle cx="635.3" cy="959.2" r="3.3" fill="#2e3234" fill-opacity="0.43" stroke="#d8d0b8" stroke-opacity="0.22" stroke-width="0.8"/><circle cx="572.9" cy="868.7" r="4.0" fill="#2e3234" fill-opacity="0.26" stroke="#d8d0b8" stroke-opacity="0.22" stroke-width="0.8"/><circle cx="607.0" cy="907.6" r="2.6" fill="#2e3234" fill-opacity="0.26" stroke="#d8d0b8" stroke-opacity="0.22" stroke-width="0.8"/><circle cx="559.3" cy="976.0" r="4.1" fill="#2e3234" fill-opacity="0.49" stroke="#d8d0b8" stroke-opacity="0.22" stroke-width="0.8"/><circle cx="637.7" cy="976.3" r="4.6" fill="#2e3234" fill-opacity="0.40" stroke="#d8d0b8" stroke-opacity="0.22" stroke-width="0.8"/><circle cx="643.1" cy="922.5" r="2.7" fill="#2e3234" fill-opacity="0.34" stroke="#d8d0b8" stroke-opacity="0.22" stroke-width="0.8"/><circle cx="675.1" cy="884.7" r="4.5" fill="#2e3234" fill-opacity="0.38" stroke="#d8d0b8" stroke-opacity="0.22" stroke-width="0.8"/><circle cx="655.9" cy="960.3" r="3.9" fill="#2e3234" fill-opacity="0.28" stroke="#d8d0b8" stroke-opacity="0.22" stroke-width="0.8"/><circle cx="598.3" cy="861.3" r="2.1" fill="#2e3234" fill-opacity="0.49" stroke="#d8d0b8" stroke-opacity="0.22" stroke-width="0.8"/><circle cx="654.1" cy="978.0" r="4.3" fill="#2e3234" fill-opacity="0.33" stroke="#d8d0b8" stroke-opacity="0.22" stroke-width="0.8"/><circle cx="714.6" cy="972.5" r="3.4" fill="#2e3234" fill-opacity="0.27" stroke="#d8d0b8" stroke-opacity="0.22" stroke-width="0.8"/><circle cx="609.7" cy="881.3" r="3.1" fill="#2e3234" fill-opacity="0.27" stroke="#d8d0b8" stroke-opacity="0.22" stroke-width="0.8"/><circle cx="673.5" cy="979.3" r="2.6" fill="#2e3234" fill-opacity="0.45" stroke="#d8d0b8" stroke-opacity="0.22" stroke-width="0.8"/><circle cx="652.7" cy="919.4" r="4.7" fill="#2e3234" fill-opacity="0.34" stroke="#d8d0b8" stroke-opacity="0.22" stroke-width="0.8"/><circle cx="691.0" cy="865.4" r="4.9" fill="#2e3234" fill-opacity="0.30" stroke="#d8d0b8" stroke-opacity="0.22" stroke-width="0.8"/><circle cx="558.8" cy="967.5" r="4.2" fill="#2e3234" fill-opacity="0.42" stroke="#d8d0b8" stroke-opacity="0.22" stroke-width="0.8"/><circle cx="682.1" cy="906.7" r="2.3" fill="#2e3234" fill-opacity="0.33" stroke="#d8d0b8" stroke-opacity="0.22" stroke-width="0.8"/><circle cx="712.4" cy="979.6" r="2.7" fill="#2e3234" fill-opacity="0.36" stroke="#d8d0b8" stroke-opacity="0.22" stroke-width="0.8"/><circle cx="631.1" cy="970.2" r="2.0" fill="#2e3234" fill-opacity="0.46" stroke="#d8d0b8" stroke-opacity="0.22" stroke-width="0.8"/><circle cx="599.2" cy="927.4" r="2.4" fill="#2e3234" fill-opacity="0.27" stroke="#d8d0b8" stroke-opacity="0.22" stroke-width="0.8"/><circle cx="701.0" cy="921.9" r="4.9" fill="#2e3234" fill-opacity="0.47" stroke="#d8d0b8" stroke-opacity="0.22" stroke-width="0.8"/><circle cx="679.9" cy="870.2" r="3.8" fill="#2e3234" fill-opacity="0.50" stroke="#d8d0b8" stroke-opacity="0.22" stroke-width="0.8"/><circle cx="639.5" cy="869.1" r="2.6" fill="#2e3234" fill-opacity="0.50" stroke="#d8d0b8" stroke-opacity="0.22" stroke-width="0.8"/><circle cx="716.2" cy="891.0" r="3.0" fill="#2e3234" fill-opacity="0.43" stroke="#d8d0b8" stroke-opacity="0.22" stroke-width="0.8"/><circle cx="640.3" cy="883.6" r="5.0" fill="#2e3234" fill-opacity="0.41" stroke="#d8d0b8" stroke-opacity="0.22" stroke-width="0.8"/><circle cx="617.2" cy="863.9" r="3.5" fill="#2e3234" fill-opacity="0.44" stroke="#d8d0b8" stroke-opacity="0.22" stroke-width="0.8"/><circle cx="587.0" cy="871.7" r="4.2" fill="#2e3234" fill-opacity="0.48" stroke="#d8d0b8" stroke-opacity="0.22" stroke-width="0.8"/><circle cx="619.1" cy="918.2" r="3.9" fill="#2e3234" fill-opacity="0.38" stroke="#d8d0b8" stroke-opacity="0.22" stroke-width="0.8"/><circle cx="579.0" cy="894.4" r="2.6" fill="#2e3234" fill-opacity="0.30" stroke="#d8d0b8" stroke-opacity="0.22" stroke-width="0.8"/><circle cx="572.5" cy="908.4" r="2.7" fill="#2e3234" fill-opacity="0.46" stroke="#d8d0b8" stroke-opacity="0.22" stroke-width="0.8"/><circle cx="610.3" cy="977.4" r="4.4" fill="#2e3234" fill-opacity="0.32" stroke="#d8d0b8" stroke-opacity="0.22" stroke-width="0.8"/><circle cx="583.1" cy="930.2" r="3.4" fill="#2e3234" fill-opacity="0.38" stroke="#d8d0b8" stroke-opacity="0.22" stroke-width="0.8"/><circle cx="578.1" cy="925.3" r="4.3" fill="#2e3234" fill-opacity="0.36" stroke="#d8d0b8" stroke-opacity="0.22" stroke-width="0.8"/><circle cx="599.5" cy="972.4" r="2.9" fill="#2e3234" fill-opacity="0.50" stroke="#d8d0b8" stroke-opacity="0.22" stroke-width="0.8"/><circle cx="669.6" cy="861.5" r="3.3" fill="#2e3234" fill-opacity="0.29" stroke="#d8d0b8" stroke-opacity="0.22" stroke-width="0.8"/><circle cx="685.4" cy="912.0" r="2.3" fill="#2e3234" fill-opacity="0.49" stroke="#d8d0b8" stroke-opacity="0.22" stroke-width="0.8"/><circle cx="687.4" cy="934.5" r="3.7" fill="#2e3234" fill-opacity="0.27" stroke="#d8d0b8" stroke-opacity="0.22" stroke-width="0.8"/><circle cx="717.1" cy="897.6" r="3.6" fill="#2e3234" fill-opacity="0.37" stroke="#d8d0b8" stroke-opacity="0.22" stroke-width="0.8"/><circle cx="634.6" cy="863.4" r="4.7" fill="#2e3234" fill-opacity="0.37" stroke="#d8d0b8" stroke-opacity="0.22" stroke-width="0.8"/><circle cx="621.8" cy="965.0" r="4.6" fill="#2e3234" fill-opacity="0.43" stroke="#d8d0b8" stroke-opacity="0.22" stroke-width="0.8"/><circle cx="704.9" cy="903.4" r="2.3" fill="#2e3234" fill-opacity="0.34" stroke="#d8d0b8" stroke-opacity="0.22" stroke-width="0.8"/><circle cx="655.5" cy="956.1" r="4.2" fill="#2e3234" fill-opacity="0.41" stroke="#d8d0b8" stroke-opacity="0.22" stroke-width="0.8"/><circle cx="655.4" cy="941.5" r="3.7" fill="#2e3234" fill-opacity="0.25" stroke="#d8d0b8" stroke-opacity="0.22" stroke-width="0.8"/></g>
<g transform="translate(687.81,868.60) scale(0.8616,1)" fill="#f4f4f4" ><text x="0.00" y="0" font-family='"Liberation Sans"' font-weight="normal" font-size="9.00" style="white-space:pre">100 </text><text x="17.52" y="0" font-family='"Liberation Sans"' font-weight="normal" font-size="9.00" style="white-space:pre">μ</text><text x="22.70" y="0" font-family='"Liberation Sans"' font-weight="normal" font-size="9.00" style="white-space:pre">g/ml</text></g>
<rect x="725.8" y="858.2" width="150.4" height="126.6" fill="url(#mC)" filter="url(#fC)"/>
<g clip-path="url(#cc4)"><circle cx="759.1" cy="907.7" r="2.6" fill="#2e3234" fill-opacity="0.35" stroke="#d8d0b8" stroke-opacity="0.22" stroke-width="0.8"/><circle cx="810.1" cy="939.1" r="2.8" fill="#2e3234" fill-opacity="0.34" stroke="#d8d0b8" stroke-opacity="0.22" stroke-width="0.8"/><circle cx="754.5" cy="959.5" r="2.9" fill="#2e3234" fill-opacity="0.47" stroke="#d8d0b8" stroke-opacity="0.22" stroke-width="0.8"/><circle cx="739.4" cy="862.2" r="3.3" fill="#2e3234" fill-opacity="0.36" stroke="#d8d0b8" stroke-opacity="0.22" stroke-width="0.8"/><circle cx="837.4" cy="965.8" r="3.5" fill="#2e3234" fill-opacity="0.32" stroke="#d8d0b8" stroke-opacity="0.22" stroke-width="0.8"/><circle cx="832.2" cy="916.7" r="2.8" fill="#2e3234" fill-opacity="0.33" stroke="#d8d0b8" stroke-opacity="0.22" stroke-width="0.8"/><circle cx="728.9" cy="946.7" r="2.1" fill="#2e3234" fill-opacity="0.30" stroke="#d8d0b8" stroke-opacity="0.22" stroke-width="0.8"/><circle cx="818.3" cy="936.0" r="3.9" fill="#2e3234" fill-opacity="0.41" stroke="#d8d0b8" stroke-opacity="0.22" stroke-width="0.8"/><circle cx="844.4" cy="975.1" r="4.9" fill="#2e3234" fill-opacity="0.35" stroke="#d8d0b8" stroke-opacity="0.22" stroke-width="0.8"/><circle cx="779.5" cy="877.6" r="3.3" fill="#2e3234" fill-opacity="0.29" stroke="#d8d0b8" stroke-opacity="0.22" stroke-width="0.8"/><circle cx="863.6" cy="952.1" r="2.7" fill="#2e3234" fill-opacity="0.42" stroke="#d8d0b8" stroke-opacity="0.22" stroke-width="0.8"/><circle cx="829.6" cy="873.2" r="4.4" fill="#2e3234" fill-opacity="0.43" stroke="#d8d0b8" stroke-opacity="0.22" stroke-width="0.8"/><circle cx="797.0" cy="975.0" r="2.3" fill="#2e3234" fill-opacity="0.26" stroke="#d8d0b8" stroke-opacity="0.22" stroke-width="0.8"/><circle cx="833.2" cy="941.5" r="2.0" fill="#2e3234" fill-opacity="0.40" stroke="#d8d0b8" stroke-opacity="0.22" stroke-width="0.8"/><circle cx="814.1" cy="906.9" r="2.4" fill="#2e3234" fill-opacity="0.45" stroke="#d8d0b8" stroke-opacity="0.22" stroke-width="0.8"/><circle cx="857.6" cy="928.2" r="2.7" fill="#2e3234" fill-opacity="0.39" stroke="#d8d0b8" stroke-opacity="0.22" stroke-width="0.8"/><circle cx="822.1" cy="923.5" r="4.4" fill="#2e3234" fill-opacity="0.31" stroke="#d8d0b8" stroke-opacity="0.22" stroke-width="0.8"/><circle cx="856.4" cy="947.8" r="2.4" fill="#2e3234" fill-opacity="0.27" stroke="#d8d0b8" stroke-opacity="0.22" stroke-width="0.8"/><circle cx="841.2" cy="901.1" r="4.7" fill="#2e3234" fill-opacity="0.48" stroke="#d8d0b8" stroke-opacity="0.22" stroke-width="0.8"/><circle cx="769.4" cy="950.5" r="2.7" fill="#2e3234" fill-opacity="0.38" stroke="#d8d0b8" stroke-opacity="0.22" stroke-width="0.8"/><circle cx="756.2" cy="957.5" r="2.4" fill="#2e3234" fill-opacity="0.48" stroke="#d8d0b8" stroke-opacity="0.22" stroke-width="0.8"/><circle cx="781.0" cy="895.7" r="2.1" fill="#2e3234" fill-opacity="0.30" stroke="#d8d0b8" stroke-opacity="0.22" stroke-width="0.8"/><circle cx="737.9" cy="888.0" r="4.9" fill="#2e3234" fill-opacity="0.41" stroke="#d8d0b8" stroke-opacity="0.22" stroke-width="0.8"/><circle cx="745.5" cy="874.0" r="3.4" fill="#2e3234" fill-opacity="0.47" stroke="#d8d0b8" stroke-opacity="0.22" stroke-width="0.8"/><circle cx="794.3" cy="904.2" r="4.0" fill="#2e3234" fill-opacity="0.28" stroke="#d8d0b8" stroke-opacity="0.22" stroke-width="0.8"/><circle cx="755.4" cy="925.3" r="4.5" fill="#2e3234" fill-opacity="0.37" stroke="#d8d0b8" stroke-opacity="0.22" stroke-width="0.8"/><circle cx="770.6" cy="925.9" r="4.4" fill="#2e3234" fill-opacity="0.30" stroke="#d8d0b8" stroke-opacity="0.22" stroke-width="0.8"/><circle cx="750.4" cy="921.3" r="3.0" fill="#2e3234" fill-opacity="0.29" stroke="#d8d0b8" stroke-opacity="0.22" stroke-width="0.8"/><circle cx="759.4" cy="965.4" r="2.6" fill="#2e3234" fill-opacity="0.33" stroke="#d8d0b8" stroke-opacity="0.22" stroke-width="0.8"/><circle cx="865.4" cy="906.1" r="4.8" fill="#2e3234" fill-opacity="0.46" stroke="#d8d0b8" stroke-opacity="0.22" stroke-width="0.8"/><circle cx="798.0" cy="916.9" r="2.1" fill="#2e3234" fill-opacity="0.35" stroke="#d8d0b8" stroke-opacity="0.22" stroke-width="0.8"/><circle cx="804.5" cy="980.3" r="2.2" fill="#2e3234" fill-opacity="0.46" stroke="#d8d0b8" stroke-opacity="0.22" stroke-width="0.8"/><circle cx="867.1" cy="968.0" r="3.6" fill="#2e3234" fill-opacity="0.42" stroke="#d8d0b8" stroke-opacity="0.22" stroke-width="0.8"/><circle cx="779.9" cy="864.7" r="3.2" fill="#2e3234" fill-opacity="0.44" stroke="#d8d0b8" stroke-opacity="0.22" stroke-width="0.8"/><circle cx="741.5" cy="919.0" r="2.2" fill="#2e3234" fill-opacity="0.28" stroke="#d8d0b8" stroke-opacity="0.22" stroke-width="0.8"/><circle cx="850.3" cy="866.0" r="3.9" fill="#2e3234" fill-opacity="0.32" stroke="#d8d0b8" stroke-opacity="0.22" stroke-width="0.8"/><circle cx="769.4" cy="974.4" r="3.3" fill="#2e3234" fill-opacity="0.39" stroke="#d8d0b8" stroke-opacity="0.22" stroke-width="0.8"/><circle cx="857.9" cy="940.4" r="2.4" fill="#2e3234" fill-opacity="0.33" stroke="#d8d0b8" stroke-opacity="0.22" stroke-width="0.8"/><circle cx="848.2" cy="898.2" r="2.3" fill="#2e3234" fill-opacity="0.33" stroke="#d8d0b8" stroke-opacity="0.22" stroke-width="0.8"/><circle cx="769.5" cy="919.3" r="2.4" fill="#2e3234" fill-opacity="0.46" stroke="#d8d0b8" stroke-opacity="0.22" stroke-width="0.8"/><circle cx="870.4" cy="885.6" r="3.6" fill="#2e3234" fill-opacity="0.31" stroke="#d8d0b8" stroke-opacity="0.22" stroke-width="0.8"/><circle cx="821.2" cy="893.9" r="2.0" fill="#2e3234" fill-opacity="0.25" stroke="#d8d0b8" stroke-opacity="0.22" stroke-width="0.8"/><circle cx="731.5" cy="896.5" r="4.2" fill="#2e3234" fill-opacity="0.37" stroke="#d8d0b8" stroke-opacity="0.22" stroke-width="0.8"/><circle cx="782.4" cy="880.6" r="4.6" fill="#2e3234" fill-opacity="0.48" stroke="#d8d0b8" stroke-opacity="0.22" stroke-width="0.8"/><circle cx="748.7" cy="904.3" r="3.3" fill="#2e3234" fill-opacity="0.34" stroke="#d8d0b8" stroke-opacity="0.22" stroke-width="0.8"/><circle cx="739.8" cy="951.3" r="3.7" fill="#2e3234" fill-opacity="0.25" stroke="#d8d0b8" stroke-opacity="0.22" stroke-width="0.8"/><circle cx="730.3" cy="943.4" r="3.3" fill="#2e3234" fill-opacity="0.34" stroke="#d8d0b8" stroke-opacity="0.22" stroke-width="0.8"/><circle cx="851.3" cy="864.5" r="4.9" fill="#2e3234" fill-opacity="0.48" stroke="#d8d0b8" stroke-opacity="0.22" stroke-width="0.8"/><circle cx="799.4" cy="912.3" r="2.4" fill="#2e3234" fill-opacity="0.42" stroke="#d8d0b8" stroke-opacity="0.22" stroke-width="0.8"/><circle cx="809.4" cy="903.6" r="4.0" fill="#2e3234" fill-opacity="0.27" stroke="#d8d0b8" stroke-opacity="0.22" stroke-width="0.8"/><circle cx="782.4" cy="975.9" r="2.6" fill="#2e3234" fill-opacity="0.50" stroke="#d8d0b8" stroke-opacity="0.22" stroke-width="0.8"/><circle cx="779.9" cy="953.0" r="4.6" fill="#2e3234" fill-opacity="0.28" stroke="#d8d0b8" stroke-opacity="0.22" stroke-width="0.8"/><circle cx="861.4" cy="881.7" r="2.8" fill="#2e3234" fill-opacity="0.37" stroke="#d8d0b8" stroke-opacity="0.22" stroke-width="0.8"/><circle cx="796.5" cy="976.5" r="2.4" fill="#2e3234" fill-opacity="0.40" stroke="#d8d0b8" stroke-opacity="0.22" stroke-width="0.8"/><circle cx="741.2" cy="871.0" r="2.6" fill="#2e3234" fill-opacity="0.41" stroke="#d8d0b8" stroke-opacity="0.22" stroke-width="0.8"/><circle cx="777.8" cy="969.6" r="3.4" fill="#2e3234" fill-opacity="0.46" stroke="#d8d0b8" stroke-opacity="0.22" stroke-width="0.8"/><circle cx="745.6" cy="906.8" r="4.3" fill="#2e3234" fill-opacity="0.50" stroke="#d8d0b8" stroke-opacity="0.22" stroke-width="0.8"/><circle cx="743.2" cy="925.1" r="4.1" fill="#2e3234" fill-opacity="0.46" stroke="#d8d0b8" stroke-opacity="0.22" stroke-width="0.8"/><circle cx="838.8" cy="909.8" r="4.4" fill="#2e3234" fill-opacity="0.42" stroke="#d8d0b8" stroke-opacity="0.22" stroke-width="0.8"/><circle cx="778.4" cy="899.4" r="2.2" fill="#2e3234" fill-opacity="0.32" stroke="#d8d0b8" stroke-opacity="0.22" stroke-width="0.8"/></g>
<g transform="translate(841.62,868.60) scale(0.8331,1)" fill="#f4f4f4" ><text x="0.00" y="0" font-family='"Liberation Sans"' font-weight="normal" font-size="9.00" style="white-space:pre">200 </text><text x="17.52" y="0" font-family='"Liberation Sans"' font-weight="normal" font-size="9.00" style="white-space:pre">μ</text><text x="22.70" y="0" font-family='"Liberation Sans"' font-weight="normal" font-size="9.00" style="white-space:pre">g/ml</text></g>
<line x1="56.50" y1="985.40" x2="876.20" y2="985.40" stroke="#8c8c8c" stroke-width="1.3" stroke-linecap="butt"/>
<rect x="946.7" y="862.4" width="156.6" height="115.8" fill="#888888" filter="url(#fD)"/>
<g transform="translate(1067.97,875.20) scale(0.9965,1)" fill="#f6f6f6" ><text x="0.00" y="0" font-family='"Liberation Sans"' font-weight="normal" font-size="10.50" style="white-space:pre">Control</text></g>
<rect x="1103.8" y="862.4" width="168.2" height="115.8" fill="#7b7b7b" filter="url(#fD)"/>
<g transform="translate(1221.29,875.20) scale(0.9603,1)" fill="#f6f6f6" ><text x="0.00" y="0" font-family='"Liberation Sans"' font-weight="normal" font-size="10.50" style="white-space:pre">25</text><text x="11.68" y="0" font-family='"Liberation Sans"' font-weight="normal" font-size="10.50" style="white-space:pre">μ</text><text x="17.73" y="0" font-family='"Liberation Sans"' font-weight="normal" font-size="10.50" style="white-space:pre">g/mL</text></g>
<rect x="1274.0" y="862.4" width="166.8" height="115.8" fill="#818181" filter="url(#fD)"/>
<g transform="translate(1392.77,875.20) scale(1.0134,1)" fill="#f6f6f6" ><text x="0.00" y="0" font-family='"Liberation Sans"' font-weight="normal" font-size="10.50" style="white-space:pre">50 </text><text x="14.60" y="0" font-family='"Liberation Sans"' font-weight="normal" font-size="10.50" style="white-space:pre">μ</text><text x="20.65" y="0" font-family='"Liberation Sans"' font-weight="normal" font-size="10.50" style="white-space:pre">g/mL</text></g>
<rect x="1443.3" y="862.4" width="162.0" height="115.8" fill="#7f7f7f" filter="url(#fD)"/>
<g transform="translate(1552.60,875.20) scale(1.0025,1)" fill="#f6f6f6" ><text x="0.00" y="0" font-family='"Liberation Sans"' font-weight="normal" font-size="10.50" style="white-space:pre">100 </text><text x="20.44" y="0" font-family='"Liberation Sans"' font-weight="normal" font-size="10.50" style="white-space:pre">μ</text><text x="26.49" y="0" font-family='"Liberation Sans"' font-weight="normal" font-size="10.50" style="white-space:pre">g/mL</text></g>
<rect x="1608.6" y="862.4" width="155.8" height="115.8" fill="#8a8a8a" filter="url(#fD)"/>
<g transform="translate(1714.07,875.20) scale(0.9969,1)" fill="#f6f6f6" ><text x="0.00" y="0" font-family='"Liberation Sans"' font-weight="normal" font-size="10.50" style="white-space:pre">200 </text><text x="20.44" y="0" font-family='"Liberation Sans"' font-weight="normal" font-size="10.50" style="white-space:pre">μ</text><text x="26.49" y="0" font-family='"Liberation Sans"' font-weight="normal" font-size="10.50" style="white-space:pre">g/mL</text></g>
<line x1="1103.50" y1="862.40" x2="1103.50" y2="978.20" stroke="#d4d4d4" stroke-width="1.2" stroke-linecap="butt"/>
<line x1="1441.90" y1="862.40" x2="1441.90" y2="978.20" stroke="#d4d4d4" stroke-width="1.2" stroke-linecap="butt"/>
<line x1="946.70" y1="978.70" x2="1764.40" y2="978.70" stroke="#a8a8a8" stroke-width="1.0" stroke-linecap="butt"/>
</svg>
</body></html>
